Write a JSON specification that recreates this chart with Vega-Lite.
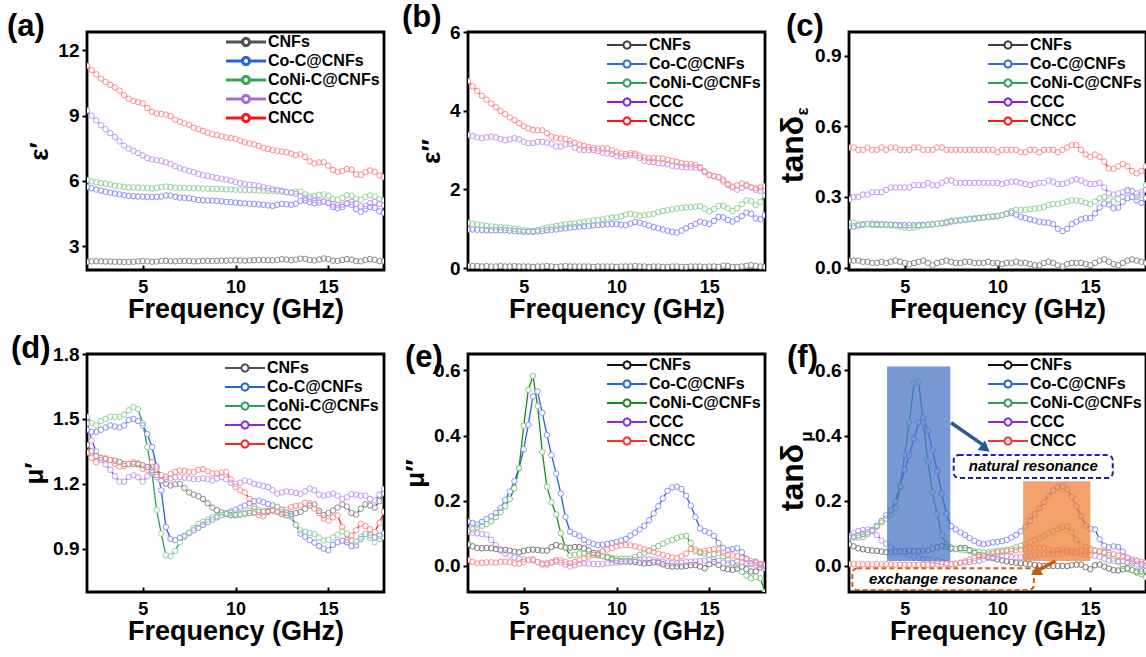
{
"$schema": "https://vega.github.io/schema/vega-lite/v6.json",
"background": "white",
"padding": {"left": 5, "top": 0, "right": 5, "bottom": 5},
"config": {
 "font": "Liberation Sans",
 "view": {"stroke": "black", "strokeWidth": 2.8},
 "axis": {"domain": false, "grid": false, "tickColor": "black", "tickWidth": 2, "labelColor": "black", "labelFontWeight": "bold", "titleColor": "black", "titleFontWeight": "bold", "labelFont": "Liberation Sans", "titleFont": "Liberation Sans"},
 "axisX": {"tickSize": 5, "labelFontSize": 18, "labelPadding": 8, "titleFontSize": 27, "titlePadding": 0},
 "axisY": {"tickSize": 5, "labelFontSize": 19, "labelPadding": 3, "titleFontSize": 26, "titlePadding": 5},
 "legend": {"labelFontSize": 16, "labelFontWeight": "bold", "labelColor": "black", "labelFont": "Liberation Sans", "labelOffset": 14, "rowPadding": 3, "padding": 0, "symbolFillColor": "white"},
 "title": {"fontSize": 31, "fontWeight": "bold", "anchor": "start", "frame": "group", "offset": 0, "baseline": "alphabetic", "color": "black", "font": "Liberation Sans"}
},
"datasets": {
"a": [
{"s":"CNFs","f":2,"v":2.28},{"s":"CNFs","f":2.25,"v":2.30},{"s":"CNFs","f":2.5,"v":2.31},{"s":"CNFs","f":2.75,"v":2.30},{"s":"CNFs","f":3,"v":2.29},{"s":"CNFs","f":3.25,"v":2.29},{"s":"CNFs","f":3.5,"v":2.28},{"s":"CNFs","f":3.75,"v":2.28},{"s":"CNFs","f":4,"v":2.27},{"s":"CNFs","f":4.25,"v":2.27},
{"s":"CNFs","f":4.5,"v":2.28},{"s":"CNFs","f":4.75,"v":2.30},{"s":"CNFs","f":5,"v":2.31},{"s":"CNFs","f":5.25,"v":2.30},{"s":"CNFs","f":5.5,"v":2.28},{"s":"CNFs","f":5.75,"v":2.29},{"s":"CNFs","f":6,"v":2.31},{"s":"CNFs","f":6.25,"v":2.32},{"s":"CNFs","f":6.5,"v":2.31},{"s":"CNFs","f":6.75,"v":2.30},
{"s":"CNFs","f":7,"v":2.31},{"s":"CNFs","f":7.25,"v":2.32},{"s":"CNFs","f":7.5,"v":2.31},{"s":"CNFs","f":7.75,"v":2.30},{"s":"CNFs","f":8,"v":2.31},{"s":"CNFs","f":8.25,"v":2.32},{"s":"CNFs","f":8.5,"v":2.32},{"s":"CNFs","f":8.75,"v":2.31},{"s":"CNFs","f":9,"v":2.32},{"s":"CNFs","f":9.25,"v":2.33},
{"s":"CNFs","f":9.5,"v":2.33},{"s":"CNFs","f":9.75,"v":2.34},{"s":"CNFs","f":10,"v":2.35},{"s":"CNFs","f":10.25,"v":2.34},{"s":"CNFs","f":10.5,"v":2.33},{"s":"CNFs","f":10.75,"v":2.34},{"s":"CNFs","f":11,"v":2.35},{"s":"CNFs","f":11.25,"v":2.36},{"s":"CNFs","f":11.5,"v":2.36},{"s":"CNFs","f":11.75,"v":2.35},
{"s":"CNFs","f":12,"v":2.34},{"s":"CNFs","f":12.25,"v":2.36},{"s":"CNFs","f":12.5,"v":2.40},{"s":"CNFs","f":12.75,"v":2.38},{"s":"CNFs","f":13,"v":2.35},{"s":"CNFs","f":13.25,"v":2.38},{"s":"CNFs","f":13.5,"v":2.42},{"s":"CNFs","f":13.75,"v":2.41},{"s":"CNFs","f":14,"v":2.36},{"s":"CNFs","f":14.25,"v":2.34},
{"s":"CNFs","f":14.5,"v":2.38},{"s":"CNFs","f":14.75,"v":2.43},{"s":"CNFs","f":15,"v":2.40},{"s":"CNFs","f":15.25,"v":2.33},{"s":"CNFs","f":15.5,"v":2.32},{"s":"CNFs","f":15.75,"v":2.36},{"s":"CNFs","f":16,"v":2.40},{"s":"CNFs","f":16.25,"v":2.38},{"s":"CNFs","f":16.5,"v":2.31},{"s":"CNFs","f":16.75,"v":2.30},
{"s":"CNFs","f":17,"v":2.36},{"s":"CNFs","f":17.25,"v":2.40},{"s":"CNFs","f":17.5,"v":2.37},{"s":"CNFs","f":17.75,"v":2.31},{"s":"CNFs","f":18,"v":2.30},
{"s":"Co","f":2,"v":5.72},{"s":"Co","f":2.25,"v":5.66},{"s":"Co","f":2.5,"v":5.60},{"s":"Co","f":2.75,"v":5.55},{"s":"Co","f":3,"v":5.50},{"s":"Co","f":3.25,"v":5.46},{"s":"Co","f":3.5,"v":5.42},{"s":"Co","f":3.75,"v":5.38},{"s":"Co","f":4,"v":5.34},{"s":"Co","f":4.25,"v":5.31},
{"s":"Co","f":4.5,"v":5.29},{"s":"Co","f":4.75,"v":5.28},{"s":"Co","f":5,"v":5.27},{"s":"Co","f":5.25,"v":5.26},{"s":"Co","f":5.5,"v":5.25},{"s":"Co","f":5.75,"v":5.26},{"s":"Co","f":6,"v":5.28},{"s":"Co","f":6.25,"v":5.33},{"s":"Co","f":6.5,"v":5.32},{"s":"Co","f":6.75,"v":5.27},
{"s":"Co","f":7,"v":5.23},{"s":"Co","f":7.25,"v":5.22},{"s":"Co","f":7.5,"v":5.20},{"s":"Co","f":7.75,"v":5.16},{"s":"Co","f":8,"v":5.12},{"s":"Co","f":8.25,"v":5.11},{"s":"Co","f":8.5,"v":5.10},{"s":"Co","f":8.75,"v":5.09},{"s":"Co","f":9,"v":5.08},{"s":"Co","f":9.25,"v":5.06},
{"s":"Co","f":9.5,"v":5.04},{"s":"Co","f":9.75,"v":5.02},{"s":"Co","f":10,"v":5.00},{"s":"Co","f":10.25,"v":4.98},{"s":"Co","f":10.5,"v":4.96},{"s":"Co","f":10.75,"v":4.95},{"s":"Co","f":11,"v":4.94},{"s":"Co","f":11.25,"v":4.92},{"s":"Co","f":11.5,"v":4.90},{"s":"Co","f":11.75,"v":4.87},
{"s":"Co","f":12,"v":4.85},{"s":"Co","f":12.25,"v":4.90},{"s":"Co","f":12.5,"v":4.94},{"s":"Co","f":12.75,"v":4.92},{"s":"Co","f":13,"v":4.90},{"s":"Co","f":13.25,"v":4.95},{"s":"Co","f":13.5,"v":5.08},{"s":"Co","f":13.75,"v":5.10},{"s":"Co","f":14,"v":5.02},{"s":"Co","f":14.25,"v":4.97},
{"s":"Co","f":14.5,"v":5.00},{"s":"Co","f":14.75,"v":5.05},{"s":"Co","f":15,"v":4.98},{"s":"Co","f":15.25,"v":4.80},{"s":"Co","f":15.5,"v":4.74},{"s":"Co","f":15.75,"v":4.80},{"s":"Co","f":16,"v":4.95},{"s":"Co","f":16.25,"v":4.90},{"s":"Co","f":16.5,"v":4.70},{"s":"Co","f":16.75,"v":4.58},
{"s":"Co","f":17,"v":4.70},{"s":"Co","f":17.25,"v":4.80},{"s":"Co","f":17.5,"v":4.76},{"s":"Co","f":17.75,"v":4.60},{"s":"Co","f":18,"v":4.53},
{"s":"CoNi","f":2,"v":6.03},{"s":"CoNi","f":2.25,"v":5.98},{"s":"CoNi","f":2.5,"v":5.94},{"s":"CoNi","f":2.75,"v":5.90},{"s":"CoNi","f":3,"v":5.87},{"s":"CoNi","f":3.25,"v":5.83},{"s":"CoNi","f":3.5,"v":5.78},{"s":"CoNi","f":3.75,"v":5.75},{"s":"CoNi","f":4,"v":5.72},{"s":"CoNi","f":4.25,"v":5.70},
{"s":"CoNi","f":4.5,"v":5.70},{"s":"CoNi","f":4.75,"v":5.69},{"s":"CoNi","f":5,"v":5.68},{"s":"CoNi","f":5.25,"v":5.67},{"s":"CoNi","f":5.5,"v":5.65},{"s":"CoNi","f":5.75,"v":5.68},{"s":"CoNi","f":6,"v":5.72},{"s":"CoNi","f":6.25,"v":5.74},{"s":"CoNi","f":6.5,"v":5.72},{"s":"CoNi","f":6.75,"v":5.69},
{"s":"CoNi","f":7,"v":5.68},{"s":"CoNi","f":7.25,"v":5.68},{"s":"CoNi","f":7.5,"v":5.67},{"s":"CoNi","f":7.75,"v":5.66},{"s":"CoNi","f":8,"v":5.66},{"s":"CoNi","f":8.25,"v":5.65},{"s":"CoNi","f":8.5,"v":5.64},{"s":"CoNi","f":8.75,"v":5.63},{"s":"CoNi","f":9,"v":5.63},{"s":"CoNi","f":9.25,"v":5.62},
{"s":"CoNi","f":9.5,"v":5.61},{"s":"CoNi","f":9.75,"v":5.61},{"s":"CoNi","f":10,"v":5.60},{"s":"CoNi","f":10.25,"v":5.59},{"s":"CoNi","f":10.5,"v":5.58},{"s":"CoNi","f":10.75,"v":5.58},{"s":"CoNi","f":11,"v":5.57},{"s":"CoNi","f":11.25,"v":5.56},{"s":"CoNi","f":11.5,"v":5.55},{"s":"CoNi","f":11.75,"v":5.54},
{"s":"CoNi","f":12,"v":5.54},{"s":"CoNi","f":12.25,"v":5.52},{"s":"CoNi","f":12.5,"v":5.50},{"s":"CoNi","f":12.75,"v":5.48},{"s":"CoNi","f":13,"v":5.46},{"s":"CoNi","f":13.25,"v":5.50},{"s":"CoNi","f":13.5,"v":5.50},{"s":"CoNi","f":13.75,"v":5.38},{"s":"CoNi","f":14,"v":5.28},{"s":"CoNi","f":14.25,"v":5.30},
{"s":"CoNi","f":14.5,"v":5.36},{"s":"CoNi","f":14.75,"v":5.38},{"s":"CoNi","f":15,"v":5.32},{"s":"CoNi","f":15.25,"v":5.16},{"s":"CoNi","f":15.5,"v":5.13},{"s":"CoNi","f":15.75,"v":5.22},{"s":"CoNi","f":16,"v":5.34},{"s":"CoNi","f":16.25,"v":5.32},{"s":"CoNi","f":16.5,"v":5.18},{"s":"CoNi","f":16.75,"v":5.14},
{"s":"CoNi","f":17,"v":5.26},{"s":"CoNi","f":17.25,"v":5.33},{"s":"CoNi","f":17.5,"v":5.28},{"s":"CoNi","f":17.75,"v":5.15},{"s":"CoNi","f":18,"v":5.10},
{"s":"CCC","f":2,"v":9.24},{"s":"CCC","f":2.25,"v":9.00},{"s":"CCC","f":2.5,"v":8.78},{"s":"CCC","f":2.75,"v":8.56},{"s":"CCC","f":3,"v":8.38},{"s":"CCC","f":3.25,"v":8.20},{"s":"CCC","f":3.5,"v":8.02},{"s":"CCC","f":3.75,"v":7.82},{"s":"CCC","f":4,"v":7.62},{"s":"CCC","f":4.25,"v":7.48},
{"s":"CCC","f":4.5,"v":7.38},{"s":"CCC","f":4.75,"v":7.28},{"s":"CCC","f":5,"v":7.18},{"s":"CCC","f":5.25,"v":7.05},{"s":"CCC","f":5.5,"v":6.98},{"s":"CCC","f":5.75,"v":6.95},{"s":"CCC","f":6,"v":6.92},{"s":"CCC","f":6.25,"v":6.85},{"s":"CCC","f":6.5,"v":6.78},{"s":"CCC","f":6.75,"v":6.68},
{"s":"CCC","f":7,"v":6.58},{"s":"CCC","f":7.25,"v":6.52},{"s":"CCC","f":7.5,"v":6.46},{"s":"CCC","f":7.75,"v":6.40},{"s":"CCC","f":8,"v":6.32},{"s":"CCC","f":8.25,"v":6.26},{"s":"CCC","f":8.5,"v":6.22},{"s":"CCC","f":8.75,"v":6.18},{"s":"CCC","f":9,"v":6.13},{"s":"CCC","f":9.25,"v":6.10},
{"s":"CCC","f":9.5,"v":6.06},{"s":"CCC","f":9.75,"v":6.01},{"s":"CCC","f":10,"v":5.95},{"s":"CCC","f":10.25,"v":5.90},{"s":"CCC","f":10.5,"v":5.86},{"s":"CCC","f":10.75,"v":5.82},{"s":"CCC","f":11,"v":5.80},{"s":"CCC","f":11.25,"v":5.76},{"s":"CCC","f":11.5,"v":5.70},{"s":"CCC","f":11.75,"v":5.66},
{"s":"CCC","f":12,"v":5.62},{"s":"CCC","f":12.25,"v":5.60},{"s":"CCC","f":12.5,"v":5.55},{"s":"CCC","f":12.75,"v":5.49},{"s":"CCC","f":13,"v":5.45},{"s":"CCC","f":13.25,"v":5.40},{"s":"CCC","f":13.5,"v":5.30},{"s":"CCC","f":13.75,"v":5.22},{"s":"CCC","f":14,"v":5.18},{"s":"CCC","f":14.25,"v":5.12},
{"s":"CCC","f":14.5,"v":5.10},{"s":"CCC","f":14.75,"v":5.05},{"s":"CCC","f":15,"v":5.00},{"s":"CCC","f":15.25,"v":4.92},{"s":"CCC","f":15.5,"v":4.88},{"s":"CCC","f":15.75,"v":4.90},{"s":"CCC","f":16,"v":4.98},{"s":"CCC","f":16.25,"v":5.03},{"s":"CCC","f":16.5,"v":4.95},{"s":"CCC","f":16.75,"v":4.82},
{"s":"CCC","f":17,"v":4.85},{"s":"CCC","f":17.25,"v":4.98},{"s":"CCC","f":17.5,"v":5.03},{"s":"CCC","f":17.75,"v":4.95},{"s":"CCC","f":18,"v":4.88},
{"s":"CNCC","f":2,"v":11.30},{"s":"CNCC","f":2.25,"v":11.10},{"s":"CNCC","f":2.5,"v":10.90},{"s":"CNCC","f":2.75,"v":10.70},{"s":"CNCC","f":3,"v":10.55},{"s":"CNCC","f":3.25,"v":10.42},{"s":"CNCC","f":3.5,"v":10.30},{"s":"CNCC","f":3.75,"v":10.15},{"s":"CNCC","f":4,"v":9.95},{"s":"CNCC","f":4.25,"v":9.78},
{"s":"CNCC","f":4.5,"v":9.68},{"s":"CNCC","f":4.75,"v":9.62},{"s":"CNCC","f":5,"v":9.57},{"s":"CNCC","f":5.25,"v":9.35},{"s":"CNCC","f":5.5,"v":9.18},{"s":"CNCC","f":5.75,"v":9.10},{"s":"CNCC","f":6,"v":9.08},{"s":"CNCC","f":6.25,"v":9.05},{"s":"CNCC","f":6.5,"v":8.98},{"s":"CNCC","f":6.75,"v":8.82},
{"s":"CNCC","f":7,"v":8.72},{"s":"CNCC","f":7.25,"v":8.65},{"s":"CNCC","f":7.5,"v":8.58},{"s":"CNCC","f":7.75,"v":8.45},{"s":"CNCC","f":8,"v":8.38},{"s":"CNCC","f":8.25,"v":8.30},{"s":"CNCC","f":8.5,"v":8.22},{"s":"CNCC","f":8.75,"v":8.15},{"s":"CNCC","f":9,"v":8.10},{"s":"CNCC","f":9.25,"v":8.05},
{"s":"CNCC","f":9.5,"v":8.00},{"s":"CNCC","f":9.75,"v":7.97},{"s":"CNCC","f":10,"v":7.94},{"s":"CNCC","f":10.25,"v":7.86},{"s":"CNCC","f":10.5,"v":7.78},{"s":"CNCC","f":10.75,"v":7.72},{"s":"CNCC","f":11,"v":7.68},{"s":"CNCC","f":11.25,"v":7.60},{"s":"CNCC","f":11.5,"v":7.52},{"s":"CNCC","f":11.75,"v":7.47},
{"s":"CNCC","f":12,"v":7.42},{"s":"CNCC","f":12.25,"v":7.38},{"s":"CNCC","f":12.5,"v":7.35},{"s":"CNCC","f":12.75,"v":7.32},{"s":"CNCC","f":13,"v":7.25},{"s":"CNCC","f":13.25,"v":7.18},{"s":"CNCC","f":13.5,"v":7.22},{"s":"CNCC","f":13.75,"v":7.10},{"s":"CNCC","f":14,"v":6.90},{"s":"CNCC","f":14.25,"v":6.80},
{"s":"CNCC","f":14.5,"v":6.85},{"s":"CNCC","f":14.75,"v":6.86},{"s":"CNCC","f":15,"v":6.70},{"s":"CNCC","f":15.25,"v":6.50},{"s":"CNCC","f":15.5,"v":6.42},{"s":"CNCC","f":15.75,"v":6.45},{"s":"CNCC","f":16,"v":6.55},{"s":"CNCC","f":16.25,"v":6.52},{"s":"CNCC","f":16.5,"v":6.30},{"s":"CNCC","f":16.75,"v":6.28},
{"s":"CNCC","f":17,"v":6.40},{"s":"CNCC","f":17.25,"v":6.48},{"s":"CNCC","f":17.5,"v":6.42},{"s":"CNCC","f":17.75,"v":6.25},{"s":"CNCC","f":18,"v":6.18}
],
"b": [
{"s":"CNFs","f":2,"v":0.05},{"s":"CNFs","f":2.25,"v":0.05},{"s":"CNFs","f":2.5,"v":0.05},{"s":"CNFs","f":2.75,"v":0.04},{"s":"CNFs","f":3,"v":0.05},{"s":"CNFs","f":3.25,"v":0.04},{"s":"CNFs","f":3.5,"v":0.04},{"s":"CNFs","f":3.75,"v":0.05},{"s":"CNFs","f":4,"v":0.04},{"s":"CNFs","f":4.25,"v":0.04},
{"s":"CNFs","f":4.5,"v":0.05},{"s":"CNFs","f":4.75,"v":0.04},{"s":"CNFs","f":5,"v":0.04},{"s":"CNFs","f":5.25,"v":0.04},{"s":"CNFs","f":5.5,"v":0.03},{"s":"CNFs","f":5.75,"v":0.04},{"s":"CNFs","f":6,"v":0.04},{"s":"CNFs","f":6.25,"v":0.05},{"s":"CNFs","f":6.5,"v":0.04},{"s":"CNFs","f":6.75,"v":0.03},
{"s":"CNFs","f":7,"v":0.04},{"s":"CNFs","f":7.25,"v":0.05},{"s":"CNFs","f":7.5,"v":0.04},{"s":"CNFs","f":7.75,"v":0.04},{"s":"CNFs","f":8,"v":0.04},{"s":"CNFs","f":8.25,"v":0.04},{"s":"CNFs","f":8.5,"v":0.04},{"s":"CNFs","f":8.75,"v":0.03},{"s":"CNFs","f":9,"v":0.04},{"s":"CNFs","f":9.25,"v":0.04},
{"s":"CNFs","f":9.5,"v":0.04},{"s":"CNFs","f":9.75,"v":0.04},{"s":"CNFs","f":10,"v":0.03},{"s":"CNFs","f":10.25,"v":0.04},{"s":"CNFs","f":10.5,"v":0.04},{"s":"CNFs","f":10.75,"v":0.04},{"s":"CNFs","f":11,"v":0.05},{"s":"CNFs","f":11.25,"v":0.04},{"s":"CNFs","f":11.5,"v":0.04},{"s":"CNFs","f":11.75,"v":0.03},
{"s":"CNFs","f":12,"v":0.04},{"s":"CNFs","f":12.25,"v":0.04},{"s":"CNFs","f":12.5,"v":0.03},{"s":"CNFs","f":12.75,"v":0.03},{"s":"CNFs","f":13,"v":0.04},{"s":"CNFs","f":13.25,"v":0.04},{"s":"CNFs","f":13.5,"v":0.03},{"s":"CNFs","f":13.75,"v":0.03},{"s":"CNFs","f":14,"v":0.04},{"s":"CNFs","f":14.25,"v":0.04},
{"s":"CNFs","f":14.5,"v":0.04},{"s":"CNFs","f":14.75,"v":0.03},{"s":"CNFs","f":15,"v":0.04},{"s":"CNFs","f":15.25,"v":0.04},{"s":"CNFs","f":15.5,"v":0.03},{"s":"CNFs","f":15.75,"v":0.06},{"s":"CNFs","f":16,"v":0.05},{"s":"CNFs","f":16.25,"v":0.03},{"s":"CNFs","f":16.5,"v":0.03},{"s":"CNFs","f":16.75,"v":0.04},
{"s":"CNFs","f":17,"v":0.06},{"s":"CNFs","f":17.25,"v":0.07},{"s":"CNFs","f":17.5,"v":0.05},{"s":"CNFs","f":17.75,"v":0.04},{"s":"CNFs","f":18,"v":0.03},
{"s":"Co","f":2,"v":0.98},{"s":"Co","f":2.25,"v":0.98},{"s":"Co","f":2.5,"v":0.97},{"s":"Co","f":2.75,"v":0.97},{"s":"Co","f":3,"v":0.96},{"s":"Co","f":3.25,"v":0.96},{"s":"Co","f":3.5,"v":0.96},{"s":"Co","f":3.75,"v":0.96},{"s":"Co","f":4,"v":0.96},{"s":"Co","f":4.25,"v":0.95},
{"s":"Co","f":4.5,"v":0.94},{"s":"Co","f":4.75,"v":0.93},{"s":"Co","f":5,"v":0.92},{"s":"Co","f":5.25,"v":0.92},{"s":"Co","f":5.5,"v":0.92},{"s":"Co","f":5.75,"v":0.93},{"s":"Co","f":6,"v":0.94},{"s":"Co","f":6.25,"v":0.96},{"s":"Co","f":6.5,"v":0.97},{"s":"Co","f":6.75,"v":0.98},
{"s":"Co","f":7,"v":1.00},{"s":"Co","f":7.25,"v":1.01},{"s":"Co","f":7.5,"v":1.03},{"s":"Co","f":7.75,"v":1.04},{"s":"Co","f":8,"v":1.05},{"s":"Co","f":8.25,"v":1.06},{"s":"Co","f":8.5,"v":1.07},{"s":"Co","f":8.75,"v":1.08},{"s":"Co","f":9,"v":1.09},{"s":"Co","f":9.25,"v":1.10},
{"s":"Co","f":9.5,"v":1.11},{"s":"Co","f":9.75,"v":1.12},{"s":"Co","f":10,"v":1.12},{"s":"Co","f":10.25,"v":1.10},{"s":"Co","f":10.5,"v":1.09},{"s":"Co","f":10.75,"v":1.13},{"s":"Co","f":11,"v":1.17},{"s":"Co","f":11.25,"v":1.15},{"s":"Co","f":11.5,"v":1.12},{"s":"Co","f":11.75,"v":1.08},
{"s":"Co","f":12,"v":1.04},{"s":"Co","f":12.25,"v":1.01},{"s":"Co","f":12.5,"v":0.98},{"s":"Co","f":12.75,"v":0.95},{"s":"Co","f":13,"v":0.92},{"s":"Co","f":13.25,"v":0.90},{"s":"Co","f":13.5,"v":0.95},{"s":"Co","f":13.75,"v":1.01},{"s":"Co","f":14,"v":1.07},{"s":"Co","f":14.25,"v":1.12},
{"s":"Co","f":14.5,"v":1.18},{"s":"Co","f":14.75,"v":1.15},{"s":"Co","f":15,"v":1.12},{"s":"Co","f":15.25,"v":1.20},{"s":"Co","f":15.5,"v":1.30},{"s":"Co","f":15.75,"v":1.29},{"s":"Co","f":16,"v":1.22},{"s":"Co","f":16.25,"v":1.18},{"s":"Co","f":16.5,"v":1.24},{"s":"Co","f":16.75,"v":1.32},
{"s":"Co","f":17,"v":1.41},{"s":"Co","f":17.25,"v":1.38},{"s":"Co","f":17.5,"v":1.26},{"s":"Co","f":17.75,"v":1.24},{"s":"Co","f":18,"v":1.34},
{"s":"CoNi","f":2,"v":1.15},{"s":"CoNi","f":2.25,"v":1.13},{"s":"CoNi","f":2.5,"v":1.11},{"s":"CoNi","f":2.75,"v":1.09},{"s":"CoNi","f":3,"v":1.07},{"s":"CoNi","f":3.25,"v":1.06},{"s":"CoNi","f":3.5,"v":1.05},{"s":"CoNi","f":3.75,"v":1.04},{"s":"CoNi","f":4,"v":1.03},{"s":"CoNi","f":4.25,"v":1.02},
{"s":"CoNi","f":4.5,"v":1.00},{"s":"CoNi","f":4.75,"v":0.98},{"s":"CoNi","f":5,"v":0.96},{"s":"CoNi","f":5.25,"v":0.95},{"s":"CoNi","f":5.5,"v":0.94},{"s":"CoNi","f":5.75,"v":0.97},{"s":"CoNi","f":6,"v":1.00},{"s":"CoNi","f":6.25,"v":1.03},{"s":"CoNi","f":6.5,"v":1.05},{"s":"CoNi","f":6.75,"v":1.07},
{"s":"CoNi","f":7,"v":1.09},{"s":"CoNi","f":7.25,"v":1.11},{"s":"CoNi","f":7.5,"v":1.12},{"s":"CoNi","f":7.75,"v":1.13},{"s":"CoNi","f":8,"v":1.15},{"s":"CoNi","f":8.25,"v":1.17},{"s":"CoNi","f":8.5,"v":1.19},{"s":"CoNi","f":8.75,"v":1.21},{"s":"CoNi","f":9,"v":1.22},{"s":"CoNi","f":9.25,"v":1.24},
{"s":"CoNi","f":9.5,"v":1.26},{"s":"CoNi","f":9.75,"v":1.28},{"s":"CoNi","f":10,"v":1.29},{"s":"CoNi","f":10.25,"v":1.32},{"s":"CoNi","f":10.5,"v":1.36},{"s":"CoNi","f":10.75,"v":1.38},{"s":"CoNi","f":11,"v":1.36},{"s":"CoNi","f":11.25,"v":1.33},{"s":"CoNi","f":11.5,"v":1.34},{"s":"CoNi","f":11.75,"v":1.36},
{"s":"CoNi","f":12,"v":1.38},{"s":"CoNi","f":12.25,"v":1.42},{"s":"CoNi","f":12.5,"v":1.45},{"s":"CoNi","f":12.75,"v":1.47},{"s":"CoNi","f":13,"v":1.49},{"s":"CoNi","f":13.25,"v":1.51},{"s":"CoNi","f":13.5,"v":1.53},{"s":"CoNi","f":13.75,"v":1.54},{"s":"CoNi","f":14,"v":1.55},{"s":"CoNi","f":14.25,"v":1.56},
{"s":"CoNi","f":14.5,"v":1.57},{"s":"CoNi","f":14.75,"v":1.51},{"s":"CoNi","f":15,"v":1.44},{"s":"CoNi","f":15.25,"v":1.50},{"s":"CoNi","f":15.5,"v":1.58},{"s":"CoNi","f":15.75,"v":1.58},{"s":"CoNi","f":16,"v":1.52},{"s":"CoNi","f":16.25,"v":1.45},{"s":"CoNi","f":16.5,"v":1.52},{"s":"CoNi","f":16.75,"v":1.62},
{"s":"CoNi","f":17,"v":1.72},{"s":"CoNi","f":17.25,"v":1.70},{"s":"CoNi","f":17.5,"v":1.60},{"s":"CoNi","f":17.75,"v":1.68},{"s":"CoNi","f":18,"v":1.85},
{"s":"CCC","f":2,"v":3.38},{"s":"CCC","f":2.25,"v":3.36},{"s":"CCC","f":2.5,"v":3.32},{"s":"CCC","f":2.75,"v":3.30},{"s":"CCC","f":3,"v":3.32},{"s":"CCC","f":3.25,"v":3.34},{"s":"CCC","f":3.5,"v":3.32},{"s":"CCC","f":3.75,"v":3.28},{"s":"CCC","f":4,"v":3.25},{"s":"CCC","f":4.25,"v":3.27},
{"s":"CCC","f":4.5,"v":3.30},{"s":"CCC","f":4.75,"v":3.27},{"s":"CCC","f":5,"v":3.21},{"s":"CCC","f":5.25,"v":3.17},{"s":"CCC","f":5.5,"v":3.18},{"s":"CCC","f":5.75,"v":3.21},{"s":"CCC","f":6,"v":3.21},{"s":"CCC","f":6.25,"v":3.19},{"s":"CCC","f":6.5,"v":3.16},{"s":"CCC","f":6.75,"v":3.09},
{"s":"CCC","f":7,"v":3.09},{"s":"CCC","f":7.25,"v":3.14},{"s":"CCC","f":7.5,"v":3.16},{"s":"CCC","f":7.75,"v":3.06},{"s":"CCC","f":8,"v":3.01},{"s":"CCC","f":8.25,"v":3.00},{"s":"CCC","f":8.5,"v":3.00},{"s":"CCC","f":8.75,"v":3.00},{"s":"CCC","f":9,"v":2.97},{"s":"CCC","f":9.25,"v":2.93},
{"s":"CCC","f":9.5,"v":2.91},{"s":"CCC","f":9.75,"v":2.90},{"s":"CCC","f":10,"v":2.85},{"s":"CCC","f":10.25,"v":2.83},{"s":"CCC","f":10.5,"v":2.85},{"s":"CCC","f":10.75,"v":2.87},{"s":"CCC","f":11,"v":2.86},{"s":"CCC","f":11.25,"v":2.80},{"s":"CCC","f":11.5,"v":2.73},{"s":"CCC","f":11.75,"v":2.70},
{"s":"CCC","f":12,"v":2.69},{"s":"CCC","f":12.25,"v":2.67},{"s":"CCC","f":12.5,"v":2.66},{"s":"CCC","f":12.75,"v":2.64},{"s":"CCC","f":13,"v":2.60},{"s":"CCC","f":13.25,"v":2.58},{"s":"CCC","f":13.5,"v":2.57},{"s":"CCC","f":13.75,"v":2.56},{"s":"CCC","f":14,"v":2.56},{"s":"CCC","f":14.25,"v":2.55},
{"s":"CCC","f":14.5,"v":2.54},{"s":"CCC","f":14.75,"v":2.46},{"s":"CCC","f":15,"v":2.37},{"s":"CCC","f":15.25,"v":2.33},{"s":"CCC","f":15.5,"v":2.31},{"s":"CCC","f":15.75,"v":2.25},{"s":"CCC","f":16,"v":2.14},{"s":"CCC","f":16.25,"v":2.05},{"s":"CCC","f":16.5,"v":1.99},{"s":"CCC","f":16.75,"v":2.04},
{"s":"CCC","f":17,"v":2.09},{"s":"CCC","f":17.25,"v":2.05},{"s":"CCC","f":17.5,"v":1.99},{"s":"CCC","f":17.75,"v":1.96},{"s":"CCC","f":18,"v":1.96},
{"s":"CNCC","f":2,"v":4.75},{"s":"CNCC","f":2.25,"v":4.62},{"s":"CNCC","f":2.5,"v":4.50},{"s":"CNCC","f":2.75,"v":4.38},{"s":"CNCC","f":3,"v":4.28},{"s":"CNCC","f":3.25,"v":4.18},{"s":"CNCC","f":3.5,"v":4.09},{"s":"CNCC","f":3.75,"v":3.99},{"s":"CNCC","f":4,"v":3.91},{"s":"CNCC","f":4.25,"v":3.83},
{"s":"CNCC","f":4.5,"v":3.76},{"s":"CNCC","f":4.75,"v":3.68},{"s":"CNCC","f":5,"v":3.61},{"s":"CNCC","f":5.25,"v":3.55},{"s":"CNCC","f":5.5,"v":3.51},{"s":"CNCC","f":5.75,"v":3.50},{"s":"CNCC","f":6,"v":3.50},{"s":"CNCC","f":6.25,"v":3.43},{"s":"CNCC","f":6.5,"v":3.34},{"s":"CNCC","f":6.75,"v":3.31},
{"s":"CNCC","f":7,"v":3.29},{"s":"CNCC","f":7.25,"v":3.28},{"s":"CNCC","f":7.5,"v":3.24},{"s":"CNCC","f":7.75,"v":3.18},{"s":"CNCC","f":8,"v":3.14},{"s":"CNCC","f":8.25,"v":3.11},{"s":"CNCC","f":8.5,"v":3.08},{"s":"CNCC","f":8.75,"v":3.05},{"s":"CNCC","f":9,"v":3.04},{"s":"CNCC","f":9.25,"v":3.04},
{"s":"CNCC","f":9.5,"v":3.04},{"s":"CNCC","f":9.75,"v":2.99},{"s":"CNCC","f":10,"v":2.94},{"s":"CNCC","f":10.25,"v":2.91},{"s":"CNCC","f":10.5,"v":2.90},{"s":"CNCC","f":10.75,"v":2.92},{"s":"CNCC","f":11,"v":2.91},{"s":"CNCC","f":11.25,"v":2.86},{"s":"CNCC","f":11.5,"v":2.81},{"s":"CNCC","f":11.75,"v":2.79},
{"s":"CNCC","f":12,"v":2.79},{"s":"CNCC","f":12.25,"v":2.79},{"s":"CNCC","f":12.5,"v":2.78},{"s":"CNCC","f":12.75,"v":2.75},{"s":"CNCC","f":13,"v":2.72},{"s":"CNCC","f":13.25,"v":2.70},{"s":"CNCC","f":13.5,"v":2.67},{"s":"CNCC","f":13.75,"v":2.65},{"s":"CNCC","f":14,"v":2.64},{"s":"CNCC","f":14.25,"v":2.62},
{"s":"CNCC","f":14.5,"v":2.56},{"s":"CNCC","f":14.75,"v":2.44},{"s":"CNCC","f":15,"v":2.36},{"s":"CNCC","f":15.25,"v":2.34},{"s":"CNCC","f":15.5,"v":2.31},{"s":"CNCC","f":15.75,"v":2.20},{"s":"CNCC","f":16,"v":2.11},{"s":"CNCC","f":16.25,"v":2.07},{"s":"CNCC","f":16.5,"v":2.10},{"s":"CNCC","f":16.75,"v":2.15},
{"s":"CNCC","f":17,"v":2.12},{"s":"CNCC","f":17.25,"v":2.05},{"s":"CNCC","f":17.5,"v":2.03},{"s":"CNCC","f":17.75,"v":2.05},{"s":"CNCC","f":18,"v":2.08}
],
"c": [
{"s":"CNFs","f":2,"v":0.03},{"s":"CNFs","f":2.25,"v":0.03},{"s":"CNFs","f":2.5,"v":0.03},{"s":"CNFs","f":2.75,"v":0.025},{"s":"CNFs","f":3,"v":0.025},{"s":"CNFs","f":3.25,"v":0.02},{"s":"CNFs","f":3.5,"v":0.02},{"s":"CNFs","f":3.75,"v":0.025},{"s":"CNFs","f":4,"v":0.02},{"s":"CNFs","f":4.25,"v":0.025},
{"s":"CNFs","f":4.5,"v":0.03},{"s":"CNFs","f":4.75,"v":0.025},{"s":"CNFs","f":5,"v":0.02},{"s":"CNFs","f":5.25,"v":0.015},{"s":"CNFs","f":5.5,"v":0.02},{"s":"CNFs","f":5.75,"v":0.025},{"s":"CNFs","f":6,"v":0.03},{"s":"CNFs","f":6.25,"v":0.02},{"s":"CNFs","f":6.5,"v":0.01},{"s":"CNFs","f":6.75,"v":0.02},
{"s":"CNFs","f":7,"v":0.025},{"s":"CNFs","f":7.25,"v":0.03},{"s":"CNFs","f":7.5,"v":0.025},{"s":"CNFs","f":7.75,"v":0.02},{"s":"CNFs","f":8,"v":0.02},{"s":"CNFs","f":8.25,"v":0.025},{"s":"CNFs","f":8.5,"v":0.025},{"s":"CNFs","f":8.75,"v":0.02},{"s":"CNFs","f":9,"v":0.02},{"s":"CNFs","f":9.25,"v":0.02},
{"s":"CNFs","f":9.5,"v":0.025},{"s":"CNFs","f":9.75,"v":0.02},{"s":"CNFs","f":10,"v":0.02},{"s":"CNFs","f":10.25,"v":0.015},{"s":"CNFs","f":10.5,"v":0.02},{"s":"CNFs","f":10.75,"v":0.02},{"s":"CNFs","f":11,"v":0.025},{"s":"CNFs","f":11.25,"v":0.02},{"s":"CNFs","f":11.5,"v":0.02},{"s":"CNFs","f":11.75,"v":0.015},
{"s":"CNFs","f":12,"v":0.01},{"s":"CNFs","f":12.25,"v":0.01},{"s":"CNFs","f":12.5,"v":0.02},{"s":"CNFs","f":12.75,"v":0.025},{"s":"CNFs","f":13,"v":0.02},{"s":"CNFs","f":13.25,"v":0.01},{"s":"CNFs","f":13.5,"v":0.005},{"s":"CNFs","f":13.75,"v":0.015},{"s":"CNFs","f":14,"v":0.02},{"s":"CNFs","f":14.25,"v":0.02},
{"s":"CNFs","f":14.5,"v":0.02},{"s":"CNFs","f":14.75,"v":0.015},{"s":"CNFs","f":15,"v":0.01},{"s":"CNFs","f":15.25,"v":0.02},{"s":"CNFs","f":15.5,"v":0.03},{"s":"CNFs","f":15.75,"v":0.035},{"s":"CNFs","f":16,"v":0.025},{"s":"CNFs","f":16.25,"v":0.015},{"s":"CNFs","f":16.5,"v":0.01},{"s":"CNFs","f":16.75,"v":0.02},
{"s":"CNFs","f":17,"v":0.03},{"s":"CNFs","f":17.25,"v":0.035},{"s":"CNFs","f":17.5,"v":0.03},{"s":"CNFs","f":17.75,"v":0.025},{"s":"CNFs","f":18,"v":0.02},
{"s":"Co","f":2,"v":0.175},{"s":"Co","f":2.25,"v":0.175},{"s":"Co","f":2.5,"v":0.178},{"s":"Co","f":2.75,"v":0.182},{"s":"Co","f":3,"v":0.185},{"s":"Co","f":3.25,"v":0.186},{"s":"Co","f":3.5,"v":0.185},{"s":"Co","f":3.75,"v":0.184},{"s":"Co","f":4,"v":0.183},{"s":"Co","f":4.25,"v":0.183},
{"s":"Co","f":4.5,"v":0.182},{"s":"Co","f":4.75,"v":0.181},{"s":"Co","f":5,"v":0.18},{"s":"Co","f":5.25,"v":0.18},{"s":"Co","f":5.5,"v":0.18},{"s":"Co","f":5.75,"v":0.181},{"s":"Co","f":6,"v":0.182},{"s":"Co","f":6.25,"v":0.183},{"s":"Co","f":6.5,"v":0.185},{"s":"Co","f":6.75,"v":0.186},
{"s":"Co","f":7,"v":0.188},{"s":"Co","f":7.25,"v":0.19},{"s":"Co","f":7.5,"v":0.195},{"s":"Co","f":7.75,"v":0.198},{"s":"Co","f":8,"v":0.2},{"s":"Co","f":8.25,"v":0.203},{"s":"Co","f":8.5,"v":0.205},{"s":"Co","f":8.75,"v":0.207},{"s":"Co","f":9,"v":0.21},{"s":"Co","f":9.25,"v":0.212},
{"s":"Co","f":9.5,"v":0.214},{"s":"Co","f":9.75,"v":0.216},{"s":"Co","f":10,"v":0.218},{"s":"Co","f":10.25,"v":0.222},{"s":"Co","f":10.5,"v":0.228},{"s":"Co","f":10.75,"v":0.232},{"s":"Co","f":11,"v":0.225},{"s":"Co","f":11.25,"v":0.215},{"s":"Co","f":11.5,"v":0.21},{"s":"Co","f":11.75,"v":0.205},
{"s":"Co","f":12,"v":0.2},{"s":"Co","f":12.25,"v":0.195},{"s":"Co","f":12.5,"v":0.192},{"s":"Co","f":12.75,"v":0.19},{"s":"Co","f":13,"v":0.185},{"s":"Co","f":13.25,"v":0.165},{"s":"Co","f":13.5,"v":0.155},{"s":"Co","f":13.75,"v":0.165},{"s":"Co","f":14,"v":0.185},{"s":"Co","f":14.25,"v":0.195},
{"s":"Co","f":14.5,"v":0.205},{"s":"Co","f":14.75,"v":0.21},{"s":"Co","f":15,"v":0.21},{"s":"Co","f":15.25,"v":0.23},{"s":"Co","f":15.5,"v":0.255},{"s":"Co","f":15.75,"v":0.272},{"s":"Co","f":16,"v":0.268},{"s":"Co","f":16.25,"v":0.252},{"s":"Co","f":16.5,"v":0.255},{"s":"Co","f":16.75,"v":0.28},
{"s":"Co","f":17,"v":0.295},{"s":"Co","f":17.25,"v":0.3},{"s":"Co","f":17.5,"v":0.285},{"s":"Co","f":17.75,"v":0.275},{"s":"Co","f":18,"v":0.295},
{"s":"CoNi","f":2,"v":0.19},{"s":"CoNi","f":2.25,"v":0.19},{"s":"CoNi","f":2.5,"v":0.185},{"s":"CoNi","f":2.75,"v":0.185},{"s":"CoNi","f":3,"v":0.185},{"s":"CoNi","f":3.25,"v":0.18},{"s":"CoNi","f":3.5,"v":0.18},{"s":"CoNi","f":3.75,"v":0.18},{"s":"CoNi","f":4,"v":0.18},{"s":"CoNi","f":4.25,"v":0.18},
{"s":"CoNi","f":4.5,"v":0.178},{"s":"CoNi","f":4.75,"v":0.175},{"s":"CoNi","f":5,"v":0.17},{"s":"CoNi","f":5.25,"v":0.168},{"s":"CoNi","f":5.5,"v":0.17},{"s":"CoNi","f":5.75,"v":0.175},{"s":"CoNi","f":6,"v":0.178},{"s":"CoNi","f":6.25,"v":0.18},{"s":"CoNi","f":6.5,"v":0.182},{"s":"CoNi","f":6.75,"v":0.186},
{"s":"CoNi","f":7,"v":0.19},{"s":"CoNi","f":7.25,"v":0.195},{"s":"CoNi","f":7.5,"v":0.2},{"s":"CoNi","f":7.75,"v":0.2},{"s":"CoNi","f":8,"v":0.203},{"s":"CoNi","f":8.25,"v":0.205},{"s":"CoNi","f":8.5,"v":0.208},{"s":"CoNi","f":8.75,"v":0.21},{"s":"CoNi","f":9,"v":0.212},{"s":"CoNi","f":9.25,"v":0.214},
{"s":"CoNi","f":9.5,"v":0.216},{"s":"CoNi","f":9.75,"v":0.218},{"s":"CoNi","f":10,"v":0.22},{"s":"CoNi","f":10.25,"v":0.224},{"s":"CoNi","f":10.5,"v":0.23},{"s":"CoNi","f":10.75,"v":0.24},{"s":"CoNi","f":11,"v":0.245},{"s":"CoNi","f":11.25,"v":0.245},{"s":"CoNi","f":11.5,"v":0.245},{"s":"CoNi","f":11.75,"v":0.248},
{"s":"CoNi","f":12,"v":0.25},{"s":"CoNi","f":12.25,"v":0.253},{"s":"CoNi","f":12.5,"v":0.258},{"s":"CoNi","f":12.75,"v":0.265},{"s":"CoNi","f":13,"v":0.27},{"s":"CoNi","f":13.25,"v":0.27},{"s":"CoNi","f":13.5,"v":0.275},{"s":"CoNi","f":13.75,"v":0.28},{"s":"CoNi","f":14,"v":0.285},{"s":"CoNi","f":14.25,"v":0.285},
{"s":"CoNi","f":14.5,"v":0.282},{"s":"CoNi","f":14.75,"v":0.275},{"s":"CoNi","f":15,"v":0.27},{"s":"CoNi","f":15.25,"v":0.28},{"s":"CoNi","f":15.5,"v":0.295},{"s":"CoNi","f":15.75,"v":0.3},{"s":"CoNi","f":16,"v":0.285},{"s":"CoNi","f":16.25,"v":0.28},{"s":"CoNi","f":16.5,"v":0.29},{"s":"CoNi","f":16.75,"v":0.3},
{"s":"CoNi","f":17,"v":0.33},{"s":"CoNi","f":17.25,"v":0.325},{"s":"CoNi","f":17.5,"v":0.3},{"s":"CoNi","f":17.75,"v":0.32},{"s":"CoNi","f":18,"v":0.35},
{"s":"CCC","f":2,"v":0.29},{"s":"CCC","f":2.25,"v":0.30},{"s":"CCC","f":2.5,"v":0.30},{"s":"CCC","f":2.75,"v":0.31},{"s":"CCC","f":3,"v":0.31},{"s":"CCC","f":3.25,"v":0.32},{"s":"CCC","f":3.5,"v":0.32},{"s":"CCC","f":3.75,"v":0.32},{"s":"CCC","f":4,"v":0.33},{"s":"CCC","f":4.25,"v":0.34},
{"s":"CCC","f":4.5,"v":0.34},{"s":"CCC","f":4.75,"v":0.34},{"s":"CCC","f":5,"v":0.34},{"s":"CCC","f":5.25,"v":0.34},{"s":"CCC","f":5.5,"v":0.35},{"s":"CCC","f":5.75,"v":0.35},{"s":"CCC","f":6,"v":0.35},{"s":"CCC","f":6.25,"v":0.36},{"s":"CCC","f":6.5,"v":0.35},{"s":"CCC","f":6.75,"v":0.35},
{"s":"CCC","f":7,"v":0.36},{"s":"CCC","f":7.25,"v":0.37},{"s":"CCC","f":7.5,"v":0.37},{"s":"CCC","f":7.75,"v":0.36},{"s":"CCC","f":8,"v":0.36},{"s":"CCC","f":8.25,"v":0.36},{"s":"CCC","f":8.5,"v":0.36},{"s":"CCC","f":8.75,"v":0.36},{"s":"CCC","f":9,"v":0.36},{"s":"CCC","f":9.25,"v":0.36},
{"s":"CCC","f":9.5,"v":0.36},{"s":"CCC","f":9.75,"v":0.36},{"s":"CCC","f":10,"v":0.36},{"s":"CCC","f":10.25,"v":0.355},{"s":"CCC","f":10.5,"v":0.36},{"s":"CCC","f":10.75,"v":0.365},{"s":"CCC","f":11,"v":0.365},{"s":"CCC","f":11.25,"v":0.36},{"s":"CCC","f":11.5,"v":0.355},{"s":"CCC","f":11.75,"v":0.35},
{"s":"CCC","f":12,"v":0.355},{"s":"CCC","f":12.25,"v":0.36},{"s":"CCC","f":12.5,"v":0.36},{"s":"CCC","f":12.75,"v":0.37},{"s":"CCC","f":13,"v":0.365},{"s":"CCC","f":13.25,"v":0.355},{"s":"CCC","f":13.5,"v":0.355},{"s":"CCC","f":13.75,"v":0.36},{"s":"CCC","f":14,"v":0.37},{"s":"CCC","f":14.25,"v":0.375},
{"s":"CCC","f":14.5,"v":0.37},{"s":"CCC","f":14.75,"v":0.36},{"s":"CCC","f":15,"v":0.355},{"s":"CCC","f":15.25,"v":0.355},{"s":"CCC","f":15.5,"v":0.36},{"s":"CCC","f":15.75,"v":0.34},{"s":"CCC","f":16,"v":0.315},{"s":"CCC","f":16.25,"v":0.31},{"s":"CCC","f":16.5,"v":0.315},{"s":"CCC","f":16.75,"v":0.32},
{"s":"CCC","f":17,"v":0.325},{"s":"CCC","f":17.25,"v":0.325},{"s":"CCC","f":17.5,"v":0.315},{"s":"CCC","f":17.75,"v":0.31},{"s":"CCC","f":18,"v":0.33},
{"s":"CNCC","f":2,"v":0.51},{"s":"CNCC","f":2.25,"v":0.51},{"s":"CNCC","f":2.5,"v":0.50},{"s":"CNCC","f":2.75,"v":0.50},{"s":"CNCC","f":3,"v":0.51},{"s":"CNCC","f":3.25,"v":0.50},{"s":"CNCC","f":3.5,"v":0.50},{"s":"CNCC","f":3.75,"v":0.51},{"s":"CNCC","f":4,"v":0.50},{"s":"CNCC","f":4.25,"v":0.51},
{"s":"CNCC","f":4.5,"v":0.51},{"s":"CNCC","f":4.75,"v":0.50},{"s":"CNCC","f":5,"v":0.50},{"s":"CNCC","f":5.25,"v":0.50},{"s":"CNCC","f":5.5,"v":0.51},{"s":"CNCC","f":5.75,"v":0.51},{"s":"CNCC","f":6,"v":0.50},{"s":"CNCC","f":6.25,"v":0.50},{"s":"CNCC","f":6.5,"v":0.50},{"s":"CNCC","f":6.75,"v":0.51},
{"s":"CNCC","f":7,"v":0.51},{"s":"CNCC","f":7.25,"v":0.50},{"s":"CNCC","f":7.5,"v":0.50},{"s":"CNCC","f":7.75,"v":0.50},{"s":"CNCC","f":8,"v":0.50},{"s":"CNCC","f":8.25,"v":0.50},{"s":"CNCC","f":8.5,"v":0.50},{"s":"CNCC","f":8.75,"v":0.50},{"s":"CNCC","f":9,"v":0.50},{"s":"CNCC","f":9.25,"v":0.50},
{"s":"CNCC","f":9.5,"v":0.50},{"s":"CNCC","f":9.75,"v":0.50},{"s":"CNCC","f":10,"v":0.49},{"s":"CNCC","f":10.25,"v":0.50},{"s":"CNCC","f":10.5,"v":0.50},{"s":"CNCC","f":10.75,"v":0.50},{"s":"CNCC","f":11,"v":0.50},{"s":"CNCC","f":11.25,"v":0.49},{"s":"CNCC","f":11.5,"v":0.49},{"s":"CNCC","f":11.75,"v":0.50},
{"s":"CNCC","f":12,"v":0.50},{"s":"CNCC","f":12.25,"v":0.49},{"s":"CNCC","f":12.5,"v":0.50},{"s":"CNCC","f":12.75,"v":0.50},{"s":"CNCC","f":13,"v":0.50},{"s":"CNCC","f":13.25,"v":0.49},{"s":"CNCC","f":13.5,"v":0.50},{"s":"CNCC","f":13.75,"v":0.51},{"s":"CNCC","f":14,"v":0.52},{"s":"CNCC","f":14.25,"v":0.52},
{"s":"CNCC","f":14.5,"v":0.50},{"s":"CNCC","f":14.75,"v":0.48},{"s":"CNCC","f":15,"v":0.47},{"s":"CNCC","f":15.25,"v":0.48},{"s":"CNCC","f":15.5,"v":0.47},{"s":"CNCC","f":15.75,"v":0.45},{"s":"CNCC","f":16,"v":0.42},{"s":"CNCC","f":16.25,"v":0.42},{"s":"CNCC","f":16.5,"v":0.43},{"s":"CNCC","f":16.75,"v":0.44},
{"s":"CNCC","f":17,"v":0.43},{"s":"CNCC","f":17.25,"v":0.41},{"s":"CNCC","f":17.5,"v":0.40},{"s":"CNCC","f":17.75,"v":0.41},{"s":"CNCC","f":18,"v":0.43}
],
"d": [
{"s":"CNFs","f":2,"v":1.38},{"s":"CNFs","f":2.25,"v":1.35},{"s":"CNFs","f":2.5,"v":1.328},{"s":"CNFs","f":2.75,"v":1.32},{"s":"CNFs","f":3,"v":1.315},{"s":"CNFs","f":3.25,"v":1.31},{"s":"CNFs","f":3.5,"v":1.307},{"s":"CNFs","f":3.75,"v":1.30},{"s":"CNFs","f":4,"v":1.292},{"s":"CNFs","f":4.25,"v":1.292},
{"s":"CNFs","f":4.5,"v":1.292},{"s":"CNFs","f":4.75,"v":1.29},{"s":"CNFs","f":5,"v":1.286},{"s":"CNFs","f":5.25,"v":1.278},{"s":"CNFs","f":5.5,"v":1.262},{"s":"CNFs","f":5.75,"v":1.24},{"s":"CNFs","f":6,"v":1.215},{"s":"CNFs","f":6.25,"v":1.20},{"s":"CNFs","f":6.5,"v":1.192},{"s":"CNFs","f":6.75,"v":1.198},
{"s":"CNFs","f":7,"v":1.20},{"s":"CNFs","f":7.25,"v":1.18},{"s":"CNFs","f":7.5,"v":1.16},{"s":"CNFs","f":7.75,"v":1.15},{"s":"CNFs","f":8,"v":1.142},{"s":"CNFs","f":8.25,"v":1.13},{"s":"CNFs","f":8.5,"v":1.11},{"s":"CNFs","f":8.75,"v":1.09},{"s":"CNFs","f":9,"v":1.078},{"s":"CNFs","f":9.25,"v":1.068},
{"s":"CNFs","f":9.5,"v":1.06},{"s":"CNFs","f":9.75,"v":1.055},{"s":"CNFs","f":10,"v":1.055},{"s":"CNFs","f":10.25,"v":1.058},{"s":"CNFs","f":10.5,"v":1.062},{"s":"CNFs","f":10.75,"v":1.065},{"s":"CNFs","f":11,"v":1.067},{"s":"CNFs","f":11.25,"v":1.07},{"s":"CNFs","f":11.5,"v":1.072},{"s":"CNFs","f":11.75,"v":1.075},
{"s":"CNFs","f":12,"v":1.077},{"s":"CNFs","f":12.25,"v":1.07},{"s":"CNFs","f":12.5,"v":1.06},{"s":"CNFs","f":12.75,"v":1.055},{"s":"CNFs","f":13,"v":1.06},{"s":"CNFs","f":13.25,"v":1.065},{"s":"CNFs","f":13.5,"v":1.07},{"s":"CNFs","f":13.75,"v":1.085},{"s":"CNFs","f":14,"v":1.10},{"s":"CNFs","f":14.25,"v":1.105},
{"s":"CNFs","f":14.5,"v":1.075},{"s":"CNFs","f":14.75,"v":1.055},{"s":"CNFs","f":15,"v":1.065},{"s":"CNFs","f":15.25,"v":1.077},{"s":"CNFs","f":15.5,"v":1.09},{"s":"CNFs","f":15.75,"v":1.105},{"s":"CNFs","f":16,"v":1.095},{"s":"CNFs","f":16.25,"v":1.065},{"s":"CNFs","f":16.5,"v":1.058},{"s":"CNFs","f":16.75,"v":1.085},
{"s":"CNFs","f":17,"v":1.105},{"s":"CNFs","f":17.25,"v":1.10},{"s":"CNFs","f":17.5,"v":1.09},{"s":"CNFs","f":17.75,"v":1.12},{"s":"CNFs","f":18,"v":1.155},
{"s":"Co","f":2,"v":1.45},{"s":"Co","f":2.25,"v":1.44},{"s":"Co","f":2.5,"v":1.44},{"s":"Co","f":2.75,"v":1.45},{"s":"Co","f":3,"v":1.46},{"s":"Co","f":3.25,"v":1.47},{"s":"Co","f":3.5,"v":1.465},{"s":"Co","f":3.75,"v":1.46},{"s":"Co","f":4,"v":1.47},{"s":"Co","f":4.25,"v":1.495},
{"s":"Co","f":4.5,"v":1.50},{"s":"Co","f":4.75,"v":1.49},{"s":"Co","f":5,"v":1.47},{"s":"Co","f":5.25,"v":1.43},{"s":"Co","f":5.5,"v":1.37},{"s":"Co","f":5.75,"v":1.28},{"s":"Co","f":6,"v":1.17},{"s":"Co","f":6.25,"v":1.00},{"s":"Co","f":6.5,"v":0.945},{"s":"Co","f":6.75,"v":0.94},
{"s":"Co","f":7,"v":0.95},{"s":"Co","f":7.25,"v":0.96},{"s":"Co","f":7.5,"v":0.972},{"s":"Co","f":7.75,"v":0.985},{"s":"Co","f":8,"v":0.997},{"s":"Co","f":8.25,"v":1.01},{"s":"Co","f":8.5,"v":1.023},{"s":"Co","f":8.75,"v":1.034},{"s":"Co","f":9,"v":1.045},{"s":"Co","f":9.25,"v":1.055},
{"s":"Co","f":9.5,"v":1.064},{"s":"Co","f":9.75,"v":1.072},{"s":"Co","f":10,"v":1.08},{"s":"Co","f":10.25,"v":1.09},{"s":"Co","f":10.5,"v":1.10},{"s":"Co","f":10.75,"v":1.11},{"s":"Co","f":11,"v":1.12},{"s":"Co","f":11.25,"v":1.122},{"s":"Co","f":11.5,"v":1.115},{"s":"Co","f":11.75,"v":1.107},
{"s":"Co","f":12,"v":1.10},{"s":"Co","f":12.25,"v":1.093},{"s":"Co","f":12.5,"v":1.08},{"s":"Co","f":12.75,"v":1.067},{"s":"Co","f":13,"v":1.052},{"s":"Co","f":13.25,"v":1.01},{"s":"Co","f":13.5,"v":0.97},{"s":"Co","f":13.75,"v":0.955},{"s":"Co","f":14,"v":0.94},{"s":"Co","f":14.25,"v":0.928},
{"s":"Co","f":14.5,"v":0.912},{"s":"Co","f":14.75,"v":0.90},{"s":"Co","f":15,"v":0.893},{"s":"Co","f":15.25,"v":0.918},{"s":"Co","f":15.5,"v":0.93},{"s":"Co","f":15.75,"v":0.937},{"s":"Co","f":16,"v":0.93},{"s":"Co","f":16.25,"v":0.912},{"s":"Co","f":16.5,"v":0.915},{"s":"Co","f":16.75,"v":0.945},
{"s":"Co","f":17,"v":0.968},{"s":"Co","f":17.25,"v":0.962},{"s":"Co","f":17.5,"v":0.952},{"s":"Co","f":17.75,"v":0.96},{"s":"Co","f":18,"v":0.97},
{"s":"CoNi","f":2,"v":1.51},{"s":"CoNi","f":2.25,"v":1.48},{"s":"CoNi","f":2.5,"v":1.47},{"s":"CoNi","f":2.75,"v":1.49},{"s":"CoNi","f":3,"v":1.50},{"s":"CoNi","f":3.25,"v":1.51},{"s":"CoNi","f":3.5,"v":1.51},{"s":"CoNi","f":3.75,"v":1.51},{"s":"CoNi","f":4,"v":1.52},{"s":"CoNi","f":4.25,"v":1.54},
{"s":"CoNi","f":4.5,"v":1.555},{"s":"CoNi","f":4.75,"v":1.545},{"s":"CoNi","f":5,"v":1.48},{"s":"CoNi","f":5.25,"v":1.37},{"s":"CoNi","f":5.5,"v":1.25},{"s":"CoNi","f":5.75,"v":1.08},{"s":"CoNi","f":6,"v":0.97},{"s":"CoNi","f":6.25,"v":0.87},{"s":"CoNi","f":6.5,"v":0.865},{"s":"CoNi","f":6.75,"v":0.89},
{"s":"CoNi","f":7,"v":0.93},{"s":"CoNi","f":7.25,"v":0.955},{"s":"CoNi","f":7.5,"v":0.975},{"s":"CoNi","f":7.75,"v":0.995},{"s":"CoNi","f":8,"v":1.015},{"s":"CoNi","f":8.25,"v":1.025},{"s":"CoNi","f":8.5,"v":1.035},{"s":"CoNi","f":8.75,"v":1.045},{"s":"CoNi","f":9,"v":1.05},{"s":"CoNi","f":9.25,"v":1.055},
{"s":"CoNi","f":9.5,"v":1.062},{"s":"CoNi","f":9.75,"v":1.065},{"s":"CoNi","f":10,"v":1.062},{"s":"CoNi","f":10.25,"v":1.06},{"s":"CoNi","f":10.5,"v":1.065},{"s":"CoNi","f":10.75,"v":1.075},{"s":"CoNi","f":11,"v":1.085},{"s":"CoNi","f":11.25,"v":1.08},{"s":"CoNi","f":11.5,"v":1.072},{"s":"CoNi","f":11.75,"v":1.07},
{"s":"CoNi","f":12,"v":1.08},{"s":"CoNi","f":12.25,"v":1.093},{"s":"CoNi","f":12.5,"v":1.08},{"s":"CoNi","f":12.75,"v":1.065},{"s":"CoNi","f":13,"v":1.045},{"s":"CoNi","f":13.25,"v":1.01},{"s":"CoNi","f":13.5,"v":0.985},{"s":"CoNi","f":13.75,"v":0.978},{"s":"CoNi","f":14,"v":0.972},{"s":"CoNi","f":14.25,"v":0.968},
{"s":"CoNi","f":14.5,"v":0.952},{"s":"CoNi","f":14.75,"v":0.938},{"s":"CoNi","f":15,"v":0.942},{"s":"CoNi","f":15.25,"v":0.952},{"s":"CoNi","f":15.5,"v":0.965},{"s":"CoNi","f":15.75,"v":0.98},{"s":"CoNi","f":16,"v":0.97},{"s":"CoNi","f":16.25,"v":0.94},{"s":"CoNi","f":16.5,"v":0.932},{"s":"CoNi","f":16.75,"v":0.955},
{"s":"CoNi","f":17,"v":0.968},{"s":"CoNi","f":17.25,"v":0.95},{"s":"CoNi","f":17.5,"v":0.93},{"s":"CoNi","f":17.75,"v":0.945},{"s":"CoNi","f":18,"v":0.955},
{"s":"CCC","f":2,"v":1.48},{"s":"CCC","f":2.25,"v":1.40},{"s":"CCC","f":2.5,"v":1.35},{"s":"CCC","f":2.75,"v":1.31},{"s":"CCC","f":3,"v":1.29},{"s":"CCC","f":3.25,"v":1.265},{"s":"CCC","f":3.5,"v":1.235},{"s":"CCC","f":3.75,"v":1.21},{"s":"CCC","f":4,"v":1.21},{"s":"CCC","f":4.25,"v":1.232},
{"s":"CCC","f":4.5,"v":1.24},{"s":"CCC","f":4.75,"v":1.23},{"s":"CCC","f":5,"v":1.21},{"s":"CCC","f":5.25,"v":1.235},{"s":"CCC","f":5.5,"v":1.255},{"s":"CCC","f":5.75,"v":1.23},{"s":"CCC","f":6,"v":1.215},{"s":"CCC","f":6.25,"v":1.22},{"s":"CCC","f":6.5,"v":1.225},{"s":"CCC","f":6.75,"v":1.23},
{"s":"CCC","f":7,"v":1.232},{"s":"CCC","f":7.25,"v":1.228},{"s":"CCC","f":7.5,"v":1.225},{"s":"CCC","f":7.75,"v":1.222},{"s":"CCC","f":8,"v":1.222},{"s":"CCC","f":8.25,"v":1.225},{"s":"CCC","f":8.5,"v":1.222},{"s":"CCC","f":8.75,"v":1.215},{"s":"CCC","f":9,"v":1.225},{"s":"CCC","f":9.25,"v":1.232},
{"s":"CCC","f":9.5,"v":1.22},{"s":"CCC","f":9.75,"v":1.205},{"s":"CCC","f":10,"v":1.20},{"s":"CCC","f":10.25,"v":1.205},{"s":"CCC","f":10.5,"v":1.215},{"s":"CCC","f":10.75,"v":1.21},{"s":"CCC","f":11,"v":1.20},{"s":"CCC","f":11.25,"v":1.195},{"s":"CCC","f":11.5,"v":1.19},{"s":"CCC","f":11.75,"v":1.185},
{"s":"CCC","f":12,"v":1.17},{"s":"CCC","f":12.25,"v":1.155},{"s":"CCC","f":12.5,"v":1.16},{"s":"CCC","f":12.75,"v":1.165},{"s":"CCC","f":13,"v":1.162},{"s":"CCC","f":13.25,"v":1.158},{"s":"CCC","f":13.5,"v":1.154},{"s":"CCC","f":13.75,"v":1.165},{"s":"CCC","f":14,"v":1.178},{"s":"CCC","f":14.25,"v":1.17},
{"s":"CCC","f":14.5,"v":1.15},{"s":"CCC","f":14.75,"v":1.145},{"s":"CCC","f":15,"v":1.15},{"s":"CCC","f":15.25,"v":1.155},{"s":"CCC","f":15.5,"v":1.145},{"s":"CCC","f":15.75,"v":1.13},{"s":"CCC","f":16,"v":1.138},{"s":"CCC","f":16.25,"v":1.152},{"s":"CCC","f":16.5,"v":1.15},{"s":"CCC","f":16.75,"v":1.145},
{"s":"CCC","f":17,"v":1.145},{"s":"CCC","f":17.25,"v":1.13},{"s":"CCC","f":17.5,"v":1.123},{"s":"CCC","f":17.75,"v":1.15},{"s":"CCC","f":18,"v":1.175},
{"s":"CNCC","f":2,"v":1.345},{"s":"CNCC","f":2.25,"v":1.32},{"s":"CNCC","f":2.5,"v":1.30},{"s":"CNCC","f":2.75,"v":1.32},{"s":"CNCC","f":3,"v":1.318},{"s":"CNCC","f":3.25,"v":1.31},{"s":"CNCC","f":3.5,"v":1.292},{"s":"CNCC","f":3.75,"v":1.28},{"s":"CNCC","f":4,"v":1.282},{"s":"CNCC","f":4.25,"v":1.292},
{"s":"CNCC","f":4.5,"v":1.30},{"s":"CNCC","f":4.75,"v":1.295},{"s":"CNCC","f":5,"v":1.27},{"s":"CNCC","f":5.25,"v":1.265},{"s":"CNCC","f":5.5,"v":1.30},{"s":"CNCC","f":5.75,"v":1.27},{"s":"CNCC","f":6,"v":1.24},{"s":"CNCC","f":6.25,"v":1.232},{"s":"CNCC","f":6.5,"v":1.245},{"s":"CNCC","f":6.75,"v":1.255},
{"s":"CNCC","f":7,"v":1.262},{"s":"CNCC","f":7.25,"v":1.26},{"s":"CNCC","f":7.5,"v":1.255},{"s":"CNCC","f":7.75,"v":1.255},{"s":"CNCC","f":8,"v":1.265},{"s":"CNCC","f":8.25,"v":1.268},{"s":"CNCC","f":8.5,"v":1.258},{"s":"CNCC","f":8.75,"v":1.248},{"s":"CNCC","f":9,"v":1.248},{"s":"CNCC","f":9.25,"v":1.252},
{"s":"CNCC","f":9.5,"v":1.255},{"s":"CNCC","f":9.75,"v":1.22},{"s":"CNCC","f":10,"v":1.185},{"s":"CNCC","f":10.25,"v":1.17},{"s":"CNCC","f":10.5,"v":1.16},{"s":"CNCC","f":10.75,"v":1.13},{"s":"CNCC","f":11,"v":1.095},{"s":"CNCC","f":11.25,"v":1.055},{"s":"CNCC","f":11.5,"v":1.05},{"s":"CNCC","f":11.75,"v":1.07},
{"s":"CNCC","f":12,"v":1.078},{"s":"CNCC","f":12.25,"v":1.072},{"s":"CNCC","f":12.5,"v":1.07},{"s":"CNCC","f":12.75,"v":1.08},{"s":"CNCC","f":13,"v":1.093},{"s":"CNCC","f":13.25,"v":1.098},{"s":"CNCC","f":13.5,"v":1.10},{"s":"CNCC","f":13.75,"v":1.112},{"s":"CNCC","f":14,"v":1.11},{"s":"CNCC","f":14.25,"v":1.085},
{"s":"CNCC","f":14.5,"v":1.065},{"s":"CNCC","f":14.75,"v":1.04},{"s":"CNCC","f":15,"v":1.03},{"s":"CNCC","f":15.25,"v":1.045},{"s":"CNCC","f":15.5,"v":1.054},{"s":"CNCC","f":15.75,"v":1.00},{"s":"CNCC","f":16,"v":0.94},{"s":"CNCC","f":16.25,"v":0.96},{"s":"CNCC","f":16.5,"v":0.985},{"s":"CNCC","f":16.75,"v":1.015},
{"s":"CNCC","f":17,"v":1.005},{"s":"CNCC","f":17.25,"v":0.99},{"s":"CNCC","f":17.5,"v":0.978},{"s":"CNCC","f":17.75,"v":1.02},{"s":"CNCC","f":18,"v":1.07}
],
"e": [
{"s":"CNFs","f":2,"v":0.066},{"s":"CNFs","f":2.25,"v":0.06},{"s":"CNFs","f":2.5,"v":0.055},{"s":"CNFs","f":2.75,"v":0.054},{"s":"CNFs","f":3,"v":0.055},{"s":"CNFs","f":3.25,"v":0.054},{"s":"CNFs","f":3.5,"v":0.052},{"s":"CNFs","f":3.75,"v":0.05},{"s":"CNFs","f":4,"v":0.049},{"s":"CNFs","f":4.25,"v":0.047},
{"s":"CNFs","f":4.5,"v":0.044},{"s":"CNFs","f":4.75,"v":0.042},{"s":"CNFs","f":5,"v":0.046},{"s":"CNFs","f":5.25,"v":0.049},{"s":"CNFs","f":5.5,"v":0.05},{"s":"CNFs","f":5.75,"v":0.049},{"s":"CNFs","f":6,"v":0.047},{"s":"CNFs","f":6.25,"v":0.047},{"s":"CNFs","f":6.5,"v":0.058},{"s":"CNFs","f":6.75,"v":0.064},
{"s":"CNFs","f":7,"v":0.06},{"s":"CNFs","f":7.25,"v":0.056},{"s":"CNFs","f":7.5,"v":0.056},{"s":"CNFs","f":7.75,"v":0.058},{"s":"CNFs","f":8,"v":0.058},{"s":"CNFs","f":8.25,"v":0.054},{"s":"CNFs","f":8.5,"v":0.047},{"s":"CNFs","f":8.75,"v":0.04},{"s":"CNFs","f":9,"v":0.035},{"s":"CNFs","f":9.25,"v":0.03},
{"s":"CNFs","f":9.5,"v":0.026},{"s":"CNFs","f":9.75,"v":0.02},{"s":"CNFs","f":10,"v":0.016},{"s":"CNFs","f":10.25,"v":0.014},{"s":"CNFs","f":10.5,"v":0.014},{"s":"CNFs","f":10.75,"v":0.013},{"s":"CNFs","f":11,"v":0.012},{"s":"CNFs","f":11.25,"v":0.01},{"s":"CNFs","f":11.5,"v":0.008},{"s":"CNFs","f":11.75,"v":0.009},
{"s":"CNFs","f":12,"v":0.011},{"s":"CNFs","f":12.25,"v":0.01},{"s":"CNFs","f":12.5,"v":0.005},{"s":"CNFs","f":12.75,"v":0.0},{"s":"CNFs","f":13,"v":-0.002},{"s":"CNFs","f":13.25,"v":-0.002},{"s":"CNFs","f":13.5,"v":-0.002},{"s":"CNFs","f":13.75,"v":0.0},{"s":"CNFs","f":14,"v":0.002},{"s":"CNFs","f":14.25,"v":0.003},
{"s":"CNFs","f":14.5,"v":-0.002},{"s":"CNFs","f":14.75,"v":-0.007},{"s":"CNFs","f":15,"v":0.005},{"s":"CNFs","f":15.25,"v":0.012},{"s":"CNFs","f":15.5,"v":0.003},{"s":"CNFs","f":15.75,"v":-0.007},{"s":"CNFs","f":16,"v":-0.01},{"s":"CNFs","f":16.25,"v":-0.012},{"s":"CNFs","f":16.5,"v":-0.008},{"s":"CNFs","f":16.75,"v":-0.003},
{"s":"CNFs","f":17,"v":-0.01},{"s":"CNFs","f":17.25,"v":-0.017},{"s":"CNFs","f":17.5,"v":-0.017},{"s":"CNFs","f":17.75,"v":-0.005},{"s":"CNFs","f":18,"v":0.003},
{"s":"Co","f":2,"v":0.136},{"s":"Co","f":2.25,"v":0.132},{"s":"Co","f":2.5,"v":0.127},{"s":"Co","f":2.75,"v":0.135},{"s":"Co","f":3,"v":0.144},{"s":"Co","f":3.25,"v":0.152},{"s":"Co","f":3.5,"v":0.162},{"s":"Co","f":3.75,"v":0.178},{"s":"Co","f":4,"v":0.202},{"s":"Co","f":4.25,"v":0.228},
{"s":"Co","f":4.5,"v":0.26},{"s":"Co","f":4.75,"v":0.30},{"s":"Co","f":5,"v":0.358},{"s":"Co","f":5.25,"v":0.433},{"s":"Co","f":5.5,"v":0.52},{"s":"Co","f":5.75,"v":0.535},{"s":"Co","f":6,"v":0.47},{"s":"Co","f":6.25,"v":0.402},{"s":"Co","f":6.5,"v":0.34},{"s":"Co","f":6.75,"v":0.283},
{"s":"Co","f":7,"v":0.222},{"s":"Co","f":7.25,"v":0.15},{"s":"Co","f":7.5,"v":0.105},{"s":"Co","f":7.75,"v":0.098},{"s":"Co","f":8,"v":0.092},{"s":"Co","f":8.25,"v":0.08},{"s":"Co","f":8.5,"v":0.073},{"s":"Co","f":8.75,"v":0.068},{"s":"Co","f":9,"v":0.064},{"s":"Co","f":9.25,"v":0.065},
{"s":"Co","f":9.5,"v":0.067},{"s":"Co","f":9.75,"v":0.07},{"s":"Co","f":10,"v":0.074},{"s":"Co","f":10.25,"v":0.078},{"s":"Co","f":10.5,"v":0.083},{"s":"Co","f":10.75,"v":0.093},{"s":"Co","f":11,"v":0.102},{"s":"Co","f":11.25,"v":0.112},{"s":"Co","f":11.5,"v":0.123},{"s":"Co","f":11.75,"v":0.14},
{"s":"Co","f":12,"v":0.161},{"s":"Co","f":12.25,"v":0.183},{"s":"Co","f":12.5,"v":0.207},{"s":"Co","f":12.75,"v":0.23},{"s":"Co","f":13,"v":0.241},{"s":"Co","f":13.25,"v":0.243},{"s":"Co","f":13.5,"v":0.236},{"s":"Co","f":13.75,"v":0.215},{"s":"Co","f":14,"v":0.185},{"s":"Co","f":14.25,"v":0.15},
{"s":"Co","f":14.5,"v":0.115},{"s":"Co","f":14.75,"v":0.107},{"s":"Co","f":15,"v":0.102},{"s":"Co","f":15.25,"v":0.092},{"s":"Co","f":15.5,"v":0.07},{"s":"Co","f":15.75,"v":0.055},{"s":"Co","f":16,"v":0.048},{"s":"Co","f":16.25,"v":0.052},{"s":"Co","f":16.5,"v":0.054},{"s":"Co","f":16.75,"v":0.042},
{"s":"Co","f":17,"v":0.022},{"s":"Co","f":17.25,"v":0.008},{"s":"Co","f":17.5,"v":0.013},{"s":"Co","f":17.75,"v":0.005},{"s":"Co","f":18,"v":-0.007},
{"s":"CoNi","f":2,"v":0.11},{"s":"CoNi","f":2.25,"v":0.112},{"s":"CoNi","f":2.5,"v":0.118},{"s":"CoNi","f":2.75,"v":0.123},{"s":"CoNi","f":3,"v":0.128},{"s":"CoNi","f":3.25,"v":0.137},{"s":"CoNi","f":3.5,"v":0.15},{"s":"CoNi","f":3.75,"v":0.165},{"s":"CoNi","f":4,"v":0.183},{"s":"CoNi","f":4.25,"v":0.205},
{"s":"CoNi","f":4.5,"v":0.238},{"s":"CoNi","f":4.75,"v":0.30},{"s":"CoNi","f":5,"v":0.43},{"s":"CoNi","f":5.25,"v":0.54},{"s":"CoNi","f":5.5,"v":0.583},{"s":"CoNi","f":5.75,"v":0.49},{"s":"CoNi","f":6,"v":0.35},{"s":"CoNi","f":6.25,"v":0.243},{"s":"CoNi","f":6.5,"v":0.195},{"s":"CoNi","f":6.75,"v":0.158},
{"s":"CoNi","f":7,"v":0.10},{"s":"CoNi","f":7.25,"v":0.057},{"s":"CoNi","f":7.5,"v":0.032},{"s":"CoNi","f":7.75,"v":0.034},{"s":"CoNi","f":8,"v":0.038},{"s":"CoNi","f":8.25,"v":0.038},{"s":"CoNi","f":8.5,"v":0.036},{"s":"CoNi","f":8.75,"v":0.034},{"s":"CoNi","f":9,"v":0.032},{"s":"CoNi","f":9.25,"v":0.03},
{"s":"CoNi","f":9.5,"v":0.028},{"s":"CoNi","f":9.75,"v":0.025},{"s":"CoNi","f":10,"v":0.023},{"s":"CoNi","f":10.25,"v":0.022},{"s":"CoNi","f":10.5,"v":0.022},{"s":"CoNi","f":10.75,"v":0.023},{"s":"CoNi","f":11,"v":0.028},{"s":"CoNi","f":11.25,"v":0.034},{"s":"CoNi","f":11.5,"v":0.04},{"s":"CoNi","f":11.75,"v":0.047},
{"s":"CoNi","f":12,"v":0.055},{"s":"CoNi","f":12.25,"v":0.061},{"s":"CoNi","f":12.5,"v":0.068},{"s":"CoNi","f":12.75,"v":0.075},{"s":"CoNi","f":13,"v":0.08},{"s":"CoNi","f":13.25,"v":0.085},{"s":"CoNi","f":13.5,"v":0.09},{"s":"CoNi","f":13.75,"v":0.092},{"s":"CoNi","f":14,"v":0.07},{"s":"CoNi","f":14.25,"v":0.044},
{"s":"CoNi","f":14.5,"v":0.04},{"s":"CoNi","f":14.75,"v":0.038},{"s":"CoNi","f":15,"v":0.034},{"s":"CoNi","f":15.25,"v":0.036},{"s":"CoNi","f":15.5,"v":0.039},{"s":"CoNi","f":15.75,"v":0.03},{"s":"CoNi","f":16,"v":0.018},{"s":"CoNi","f":16.25,"v":0.008},{"s":"CoNi","f":16.5,"v":0.002},{"s":"CoNi","f":16.75,"v":-0.018},
{"s":"CoNi","f":17,"v":-0.03},{"s":"CoNi","f":17.25,"v":-0.038},{"s":"CoNi","f":17.5,"v":-0.034},{"s":"CoNi","f":17.75,"v":-0.038},{"s":"CoNi","f":18,"v":-0.08},
{"s":"CCC","f":2,"v":0.105},{"s":"CCC","f":2.25,"v":0.102},{"s":"CCC","f":2.5,"v":0.10},{"s":"CCC","f":2.75,"v":0.098},{"s":"CCC","f":3,"v":0.096},{"s":"CCC","f":3.25,"v":0.08},{"s":"CCC","f":3.5,"v":0.064},{"s":"CCC","f":3.75,"v":0.047},{"s":"CCC","f":4,"v":0.038},{"s":"CCC","f":4.25,"v":0.032},
{"s":"CCC","f":4.5,"v":0.026},{"s":"CCC","f":4.75,"v":0.022},{"s":"CCC","f":5,"v":0.02},{"s":"CCC","f":5.25,"v":0.018},{"s":"CCC","f":5.5,"v":0.017},{"s":"CCC","f":5.75,"v":0.012},{"s":"CCC","f":6,"v":0.008},{"s":"CCC","f":6.25,"v":0.009},{"s":"CCC","f":6.5,"v":0.012},{"s":"CCC","f":6.75,"v":0.013},
{"s":"CCC","f":7,"v":0.01},{"s":"CCC","f":7.25,"v":0.004},{"s":"CCC","f":7.5,"v":-0.002},{"s":"CCC","f":7.75,"v":0.002},{"s":"CCC","f":8,"v":0.006},{"s":"CCC","f":8.25,"v":0.008},{"s":"CCC","f":8.5,"v":0.007},{"s":"CCC","f":8.75,"v":0.006},{"s":"CCC","f":9,"v":0.005},{"s":"CCC","f":9.25,"v":0.006},
{"s":"CCC","f":9.5,"v":0.008},{"s":"CCC","f":9.75,"v":0.009},{"s":"CCC","f":10,"v":0.01},{"s":"CCC","f":10.25,"v":0.012},{"s":"CCC","f":10.5,"v":0.014},{"s":"CCC","f":10.75,"v":0.016},{"s":"CCC","f":11,"v":0.018},{"s":"CCC","f":11.25,"v":0.019},{"s":"CCC","f":11.5,"v":0.02},{"s":"CCC","f":11.75,"v":0.02},
{"s":"CCC","f":12,"v":0.018},{"s":"CCC","f":12.25,"v":0.015},{"s":"CCC","f":12.5,"v":0.013},{"s":"CCC","f":12.75,"v":0.01},{"s":"CCC","f":13,"v":0.009},{"s":"CCC","f":13.25,"v":0.008},{"s":"CCC","f":13.5,"v":0.01},{"s":"CCC","f":13.75,"v":0.013},{"s":"CCC","f":14,"v":0.013},{"s":"CCC","f":14.25,"v":0.014},
{"s":"CCC","f":14.5,"v":0.015},{"s":"CCC","f":14.75,"v":0.016},{"s":"CCC","f":15,"v":0.018},{"s":"CCC","f":15.25,"v":0.02},{"s":"CCC","f":15.5,"v":0.016},{"s":"CCC","f":15.75,"v":0.01},{"s":"CCC","f":16,"v":0.008},{"s":"CCC","f":16.25,"v":0.01},{"s":"CCC","f":16.5,"v":0.013},{"s":"CCC","f":16.75,"v":0.012},
{"s":"CCC","f":17,"v":0.009},{"s":"CCC","f":17.25,"v":0.006},{"s":"CCC","f":17.5,"v":0.003},{"s":"CCC","f":17.75,"v":0.002},{"s":"CCC","f":18,"v":0.0},
{"s":"CNCC","f":2,"v":0.018},{"s":"CNCC","f":2.25,"v":0.012},{"s":"CNCC","f":2.5,"v":0.008},{"s":"CNCC","f":2.75,"v":0.01},{"s":"CNCC","f":3,"v":0.011},{"s":"CNCC","f":3.25,"v":0.011},{"s":"CNCC","f":3.5,"v":0.01},{"s":"CNCC","f":3.75,"v":0.012},{"s":"CNCC","f":4,"v":0.013},{"s":"CNCC","f":4.25,"v":0.011},
{"s":"CNCC","f":4.5,"v":0.008},{"s":"CNCC","f":4.75,"v":0.007},{"s":"CNCC","f":5,"v":0.012},{"s":"CNCC","f":5.25,"v":0.018},{"s":"CNCC","f":5.5,"v":0.02},{"s":"CNCC","f":5.75,"v":0.012},{"s":"CNCC","f":6,"v":0.004},{"s":"CNCC","f":6.25,"v":0.004},{"s":"CNCC","f":6.5,"v":0.01},{"s":"CNCC","f":6.75,"v":0.018},
{"s":"CNCC","f":7,"v":0.017},{"s":"CNCC","f":7.25,"v":0.012},{"s":"CNCC","f":7.5,"v":0.008},{"s":"CNCC","f":7.75,"v":0.012},{"s":"CNCC","f":8,"v":0.018},{"s":"CNCC","f":8.25,"v":0.023},{"s":"CNCC","f":8.5,"v":0.029},{"s":"CNCC","f":8.75,"v":0.034},{"s":"CNCC","f":9,"v":0.04},{"s":"CNCC","f":9.25,"v":0.045},
{"s":"CNCC","f":9.5,"v":0.05},{"s":"CNCC","f":9.75,"v":0.055},{"s":"CNCC","f":10,"v":0.06},{"s":"CNCC","f":10.25,"v":0.063},{"s":"CNCC","f":10.5,"v":0.064},{"s":"CNCC","f":10.75,"v":0.063},{"s":"CNCC","f":11,"v":0.06},{"s":"CNCC","f":11.25,"v":0.056},{"s":"CNCC","f":11.5,"v":0.051},{"s":"CNCC","f":11.75,"v":0.046},
{"s":"CNCC","f":12,"v":0.042},{"s":"CNCC","f":12.25,"v":0.038},{"s":"CNCC","f":12.5,"v":0.034},{"s":"CNCC","f":12.75,"v":0.03},{"s":"CNCC","f":13,"v":0.026},{"s":"CNCC","f":13.25,"v":0.024},{"s":"CNCC","f":13.5,"v":0.03},{"s":"CNCC","f":13.75,"v":0.038},{"s":"CNCC","f":14,"v":0.052},{"s":"CNCC","f":14.25,"v":0.05},
{"s":"CNCC","f":14.5,"v":0.044},{"s":"CNCC","f":14.75,"v":0.046},{"s":"CNCC","f":15,"v":0.049},{"s":"CNCC","f":15.25,"v":0.052},{"s":"CNCC","f":15.5,"v":0.05},{"s":"CNCC","f":15.75,"v":0.04},{"s":"CNCC","f":16,"v":0.035},{"s":"CNCC","f":16.25,"v":0.032},{"s":"CNCC","f":16.5,"v":0.029},{"s":"CNCC","f":16.75,"v":0.024},
{"s":"CNCC","f":17,"v":0.02},{"s":"CNCC","f":17.25,"v":0.015},{"s":"CNCC","f":17.5,"v":0.01},{"s":"CNCC","f":17.75,"v":0.005},{"s":"CNCC","f":18,"v":0.003}
],
"f": [
{"s":"CNFs","f":2,"v":0.066},{"s":"CNFs","f":2.25,"v":0.06},{"s":"CNFs","f":2.5,"v":0.054},{"s":"CNFs","f":2.75,"v":0.051},{"s":"CNFs","f":3,"v":0.049},{"s":"CNFs","f":3.25,"v":0.047},{"s":"CNFs","f":3.5,"v":0.046},{"s":"CNFs","f":3.75,"v":0.044},{"s":"CNFs","f":4,"v":0.042},{"s":"CNFs","f":4.25,"v":0.041},
{"s":"CNFs","f":4.5,"v":0.043},{"s":"CNFs","f":4.75,"v":0.045},{"s":"CNFs","f":5,"v":0.046},{"s":"CNFs","f":5.25,"v":0.046},{"s":"CNFs","f":5.5,"v":0.046},{"s":"CNFs","f":5.75,"v":0.046},{"s":"CNFs","f":6,"v":0.046},{"s":"CNFs","f":6.25,"v":0.047},{"s":"CNFs","f":6.5,"v":0.053},{"s":"CNFs","f":6.75,"v":0.058},
{"s":"CNFs","f":7,"v":0.061},{"s":"CNFs","f":7.25,"v":0.058},{"s":"CNFs","f":7.5,"v":0.053},{"s":"CNFs","f":7.75,"v":0.052},{"s":"CNFs","f":8,"v":0.055},{"s":"CNFs","f":8.25,"v":0.055},{"s":"CNFs","f":8.5,"v":0.048},{"s":"CNFs","f":8.75,"v":0.04},{"s":"CNFs","f":9,"v":0.034},{"s":"CNFs","f":9.25,"v":0.031},
{"s":"CNFs","f":9.5,"v":0.028},{"s":"CNFs","f":9.75,"v":0.024},{"s":"CNFs","f":10,"v":0.02},{"s":"CNFs","f":10.25,"v":0.017},{"s":"CNFs","f":10.5,"v":0.014},{"s":"CNFs","f":10.75,"v":0.012},{"s":"CNFs","f":11,"v":0.01},{"s":"CNFs","f":11.25,"v":0.008},{"s":"CNFs","f":11.5,"v":0.007},{"s":"CNFs","f":11.75,"v":0.005},
{"s":"CNFs","f":12,"v":0.003},{"s":"CNFs","f":12.25,"v":0.001},{"s":"CNFs","f":12.5,"v":0.0},{"s":"CNFs","f":12.75,"v":0.0},{"s":"CNFs","f":13,"v":0.0},{"s":"CNFs","f":13.25,"v":0.0},{"s":"CNFs","f":13.5,"v":0.0},{"s":"CNFs","f":13.75,"v":0.0},{"s":"CNFs","f":14,"v":0.002},{"s":"CNFs","f":14.25,"v":0.004},
{"s":"CNFs","f":14.5,"v":0.004},{"s":"CNFs","f":14.75,"v":-0.004},{"s":"CNFs","f":15,"v":-0.01},{"s":"CNFs","f":15.25,"v":0.002},{"s":"CNFs","f":15.5,"v":0.004},{"s":"CNFs","f":15.75,"v":-0.002},{"s":"CNFs","f":16,"v":-0.008},{"s":"CNFs","f":16.25,"v":-0.013},{"s":"CNFs","f":16.5,"v":-0.014},{"s":"CNFs","f":16.75,"v":-0.01},
{"s":"CNFs","f":17,"v":-0.007},{"s":"CNFs","f":17.25,"v":-0.013},{"s":"CNFs","f":17.5,"v":-0.02},{"s":"CNFs","f":17.75,"v":-0.017},{"s":"CNFs","f":18,"v":-0.015},
{"s":"Co","f":2,"v":0.087},{"s":"Co","f":2.25,"v":0.09},{"s":"Co","f":2.5,"v":0.094},{"s":"Co","f":2.75,"v":0.098},{"s":"Co","f":3,"v":0.103},{"s":"Co","f":3.25,"v":0.11},{"s":"Co","f":3.5,"v":0.123},{"s":"Co","f":3.75,"v":0.138},{"s":"Co","f":4,"v":0.155},{"s":"Co","f":4.25,"v":0.17},
{"s":"Co","f":4.5,"v":0.198},{"s":"Co","f":4.75,"v":0.245},{"s":"Co","f":5,"v":0.295},{"s":"Co","f":5.25,"v":0.34},{"s":"Co","f":5.5,"v":0.39},{"s":"Co","f":5.75,"v":0.44},{"s":"Co","f":6,"v":0.455},{"s":"Co","f":6.25,"v":0.415},{"s":"Co","f":6.5,"v":0.355},{"s":"Co","f":6.75,"v":0.29},
{"s":"Co","f":7,"v":0.222},{"s":"Co","f":7.25,"v":0.16},{"s":"Co","f":7.5,"v":0.122},{"s":"Co","f":7.75,"v":0.112},{"s":"Co","f":8,"v":0.103},{"s":"Co","f":8.25,"v":0.095},{"s":"Co","f":8.5,"v":0.085},{"s":"Co","f":8.75,"v":0.077},{"s":"Co","f":9,"v":0.07},{"s":"Co","f":9.25,"v":0.067},
{"s":"Co","f":9.5,"v":0.069},{"s":"Co","f":9.75,"v":0.072},{"s":"Co","f":10,"v":0.074},{"s":"Co","f":10.25,"v":0.076},{"s":"Co","f":10.5,"v":0.08},{"s":"Co","f":10.75,"v":0.087},{"s":"Co","f":11,"v":0.095},{"s":"Co","f":11.25,"v":0.106},{"s":"Co","f":11.5,"v":0.12},{"s":"Co","f":11.75,"v":0.138},
{"s":"Co","f":12,"v":0.158},{"s":"Co","f":12.25,"v":0.177},{"s":"Co","f":12.5,"v":0.196},{"s":"Co","f":12.75,"v":0.215},{"s":"Co","f":13,"v":0.232},{"s":"Co","f":13.25,"v":0.242},{"s":"Co","f":13.5,"v":0.244},{"s":"Co","f":13.75,"v":0.235},{"s":"Co","f":14,"v":0.212},{"s":"Co","f":14.25,"v":0.183},
{"s":"Co","f":14.5,"v":0.153},{"s":"Co","f":14.75,"v":0.123},{"s":"Co","f":15,"v":0.114},{"s":"Co","f":15.25,"v":0.112},{"s":"Co","f":15.5,"v":0.082},{"s":"Co","f":15.75,"v":0.062},{"s":"Co","f":16,"v":0.057},{"s":"Co","f":16.25,"v":0.06},{"s":"Co","f":16.5,"v":0.058},{"s":"Co","f":16.75,"v":0.044},
{"s":"Co","f":17,"v":0.025},{"s":"Co","f":17.25,"v":0.014},{"s":"Co","f":17.5,"v":0.015},{"s":"Co","f":17.75,"v":0.006},{"s":"Co","f":18,"v":0.0},
{"s":"CoNi","f":2,"v":0.087},{"s":"CoNi","f":2.25,"v":0.087},{"s":"CoNi","f":2.5,"v":0.087},{"s":"CoNi","f":2.75,"v":0.089},{"s":"CoNi","f":3,"v":0.098},{"s":"CoNi","f":3.25,"v":0.108},{"s":"CoNi","f":3.5,"v":0.12},{"s":"CoNi","f":3.75,"v":0.133},{"s":"CoNi","f":4,"v":0.145},{"s":"CoNi","f":4.25,"v":0.156},
{"s":"CoNi","f":4.5,"v":0.178},{"s":"CoNi","f":4.75,"v":0.24},{"s":"CoNi","f":5,"v":0.34},{"s":"CoNi","f":5.25,"v":0.44},{"s":"CoNi","f":5.5,"v":0.56},{"s":"CoNi","f":5.75,"v":0.565},{"s":"CoNi","f":6,"v":0.44},{"s":"CoNi","f":6.25,"v":0.32},{"s":"CoNi","f":6.5,"v":0.225},{"s":"CoNi","f":6.75,"v":0.158},
{"s":"CoNi","f":7,"v":0.095},{"s":"CoNi","f":7.25,"v":0.065},{"s":"CoNi","f":7.5,"v":0.057},{"s":"CoNi","f":7.75,"v":0.052},{"s":"CoNi","f":8,"v":0.05},{"s":"CoNi","f":8.25,"v":0.048},{"s":"CoNi","f":8.5,"v":0.046},{"s":"CoNi","f":8.75,"v":0.045},{"s":"CoNi","f":9,"v":0.043},{"s":"CoNi","f":9.25,"v":0.041},
{"s":"CoNi","f":9.5,"v":0.042},{"s":"CoNi","f":9.75,"v":0.044},{"s":"CoNi","f":10,"v":0.046},{"s":"CoNi","f":10.25,"v":0.047},{"s":"CoNi","f":10.5,"v":0.049},{"s":"CoNi","f":10.75,"v":0.052},{"s":"CoNi","f":11,"v":0.057},{"s":"CoNi","f":11.25,"v":0.062},{"s":"CoNi","f":11.5,"v":0.068},{"s":"CoNi","f":11.75,"v":0.073},
{"s":"CoNi","f":12,"v":0.079},{"s":"CoNi","f":12.25,"v":0.085},{"s":"CoNi","f":12.5,"v":0.092},{"s":"CoNi","f":12.75,"v":0.099},{"s":"CoNi","f":13,"v":0.106},{"s":"CoNi","f":13.25,"v":0.113},{"s":"CoNi","f":13.5,"v":0.119},{"s":"CoNi","f":13.75,"v":0.122},{"s":"CoNi","f":14,"v":0.103},{"s":"CoNi","f":14.25,"v":0.08},
{"s":"CoNi","f":14.5,"v":0.066},{"s":"CoNi","f":14.75,"v":0.058},{"s":"CoNi","f":15,"v":0.053},{"s":"CoNi","f":15.25,"v":0.048},{"s":"CoNi","f":15.5,"v":0.044},{"s":"CoNi","f":15.75,"v":0.039},{"s":"CoNi","f":16,"v":0.033},{"s":"CoNi","f":16.25,"v":0.022},{"s":"CoNi","f":16.5,"v":0.012},{"s":"CoNi","f":16.75,"v":0.0},
{"s":"CoNi","f":17,"v":-0.01},{"s":"CoNi","f":17.25,"v":-0.012},{"s":"CoNi","f":17.5,"v":-0.015},{"s":"CoNi","f":17.75,"v":-0.025},{"s":"CoNi","f":18,"v":-0.035},
{"s":"CCC","f":2,"v":0.092},{"s":"CCC","f":2.25,"v":0.1},{"s":"CCC","f":2.5,"v":0.107},{"s":"CCC","f":2.75,"v":0.11},{"s":"CCC","f":3,"v":0.112},{"s":"CCC","f":3.25,"v":0.107},{"s":"CCC","f":3.5,"v":0.095},{"s":"CCC","f":3.75,"v":0.078},{"s":"CCC","f":4,"v":0.068},{"s":"CCC","f":4.25,"v":0.058},
{"s":"CCC","f":4.5,"v":0.05},{"s":"CCC","f":4.75,"v":0.043},{"s":"CCC","f":5,"v":0.038},{"s":"CCC","f":5.25,"v":0.033},{"s":"CCC","f":5.5,"v":0.029},{"s":"CCC","f":5.75,"v":0.025},{"s":"CCC","f":6,"v":0.021},{"s":"CCC","f":6.25,"v":0.019},{"s":"CCC","f":6.5,"v":0.017},{"s":"CCC","f":6.75,"v":0.015},
{"s":"CCC","f":7,"v":0.012},{"s":"CCC","f":7.25,"v":0.008},{"s":"CCC","f":7.5,"v":0.005},{"s":"CCC","f":7.75,"v":0.007},{"s":"CCC","f":8,"v":0.009},{"s":"CCC","f":8.25,"v":0.01},{"s":"CCC","f":8.5,"v":0.012},{"s":"CCC","f":8.75,"v":0.014},{"s":"CCC","f":9,"v":0.016},{"s":"CCC","f":9.25,"v":0.02},
{"s":"CCC","f":9.5,"v":0.024},{"s":"CCC","f":9.75,"v":0.027},{"s":"CCC","f":10,"v":0.029},{"s":"CCC","f":10.25,"v":0.031},{"s":"CCC","f":10.5,"v":0.03},{"s":"CCC","f":10.75,"v":0.028},{"s":"CCC","f":11,"v":0.026},{"s":"CCC","f":11.25,"v":0.027},{"s":"CCC","f":11.5,"v":0.029},{"s":"CCC","f":11.75,"v":0.031},
{"s":"CCC","f":12,"v":0.033},{"s":"CCC","f":12.25,"v":0.035},{"s":"CCC","f":12.5,"v":0.036},{"s":"CCC","f":12.75,"v":0.036},{"s":"CCC","f":13,"v":0.036},{"s":"CCC","f":13.25,"v":0.037},{"s":"CCC","f":13.5,"v":0.039},{"s":"CCC","f":13.75,"v":0.041},{"s":"CCC","f":14,"v":0.041},{"s":"CCC","f":14.25,"v":0.039},
{"s":"CCC","f":14.5,"v":0.037},{"s":"CCC","f":14.75,"v":0.035},{"s":"CCC","f":15,"v":0.033},{"s":"CCC","f":15.25,"v":0.031},{"s":"CCC","f":15.5,"v":0.028},{"s":"CCC","f":15.75,"v":0.022},{"s":"CCC","f":16,"v":0.016},{"s":"CCC","f":16.25,"v":0.015},{"s":"CCC","f":16.5,"v":0.015},{"s":"CCC","f":16.75,"v":0.015},
{"s":"CCC","f":17,"v":0.012},{"s":"CCC","f":17.25,"v":0.008},{"s":"CCC","f":17.5,"v":0.005},{"s":"CCC","f":17.75,"v":0.002},{"s":"CCC","f":18,"v":0.0},
{"s":"CNCC","f":2,"v":0.005},{"s":"CNCC","f":2.25,"v":0.005},{"s":"CNCC","f":2.5,"v":0.005},{"s":"CNCC","f":2.75,"v":0.005},{"s":"CNCC","f":3,"v":0.005},{"s":"CNCC","f":3.25,"v":0.005},{"s":"CNCC","f":3.5,"v":0.005},{"s":"CNCC","f":3.75,"v":0.005},{"s":"CNCC","f":4,"v":0.005},{"s":"CNCC","f":4.25,"v":0.005},
{"s":"CNCC","f":4.5,"v":0.004},{"s":"CNCC","f":4.75,"v":0.004},{"s":"CNCC","f":5,"v":0.004},{"s":"CNCC","f":5.25,"v":0.004},{"s":"CNCC","f":5.5,"v":0.004},{"s":"CNCC","f":5.75,"v":0.004},{"s":"CNCC","f":6,"v":0.004},{"s":"CNCC","f":6.25,"v":0.004},{"s":"CNCC","f":6.5,"v":0.005},{"s":"CNCC","f":6.75,"v":0.005},
{"s":"CNCC","f":7,"v":0.005},{"s":"CNCC","f":7.25,"v":0.005},{"s":"CNCC","f":7.5,"v":0.005},{"s":"CNCC","f":7.75,"v":0.006},{"s":"CNCC","f":8,"v":0.01},{"s":"CNCC","f":8.25,"v":0.014},{"s":"CNCC","f":8.5,"v":0.019},{"s":"CNCC","f":8.75,"v":0.024},{"s":"CNCC","f":9,"v":0.028},{"s":"CNCC","f":9.25,"v":0.031},
{"s":"CNCC","f":9.5,"v":0.035},{"s":"CNCC","f":9.75,"v":0.038},{"s":"CNCC","f":10,"v":0.041},{"s":"CNCC","f":10.25,"v":0.043},{"s":"CNCC","f":10.5,"v":0.045},{"s":"CNCC","f":10.75,"v":0.046},{"s":"CNCC","f":11,"v":0.048},{"s":"CNCC","f":11.25,"v":0.05},{"s":"CNCC","f":11.5,"v":0.051},{"s":"CNCC","f":11.75,"v":0.053},
{"s":"CNCC","f":12,"v":0.055},{"s":"CNCC","f":12.25,"v":0.056},{"s":"CNCC","f":12.5,"v":0.055},{"s":"CNCC","f":12.75,"v":0.05},{"s":"CNCC","f":13,"v":0.047},{"s":"CNCC","f":13.25,"v":0.048},{"s":"CNCC","f":13.5,"v":0.05},{"s":"CNCC","f":13.75,"v":0.048},{"s":"CNCC","f":14,"v":0.046},{"s":"CNCC","f":14.25,"v":0.046},
{"s":"CNCC","f":14.5,"v":0.046},{"s":"CNCC","f":14.75,"v":0.046},{"s":"CNCC","f":15,"v":0.047},{"s":"CNCC","f":15.25,"v":0.046},{"s":"CNCC","f":15.5,"v":0.045},{"s":"CNCC","f":15.75,"v":0.043},{"s":"CNCC","f":16,"v":0.04},{"s":"CNCC","f":16.25,"v":0.036},{"s":"CNCC","f":16.5,"v":0.032},{"s":"CNCC","f":16.75,"v":0.028},
{"s":"CNCC","f":17,"v":0.024},{"s":"CNCC","f":17.25,"v":0.02},{"s":"CNCC","f":17.5,"v":0.016},{"s":"CNCC","f":17.75,"v":0.013},{"s":"CNCC","f":18,"v":0.01}
]
},
"columns": 3,
"spacing": 84,
"bounds": "flush",
"concat": [
{
 "width": 297, "height": 238,
 "title": {"text": "(a)", "dx": -80, "dy": 15},
 "data": {"name": "a"},
 "encoding": {
  "x": {"field": "f", "type": "quantitative", "scale": {"domain": [2, 18], "nice": false}, "axis": {"title": "Frequency (GHz)", "values": [5, 10, 15], "offset": -5}},
  "y": {"field": "v", "type": "quantitative", "scale": {"domain": [1.9, 12.85], "nice": false, "zero": false}, "axis": {"title": "ε′", "values": [3, 6, 9, 12], "format": "d"}}
 },
 "layer": [
  {"mark": {"type": "line", "strokeWidth": 1.3, "clip": true}, "encoding": {"color": {"field": "s", "type": "nominal", "scale": {"domain": ["CNFs","Co","CoNi","CCC","CNCC"], "range": ["#505050","#1f64e0","#35a35a","#a66be3","#ff1414"]}, "legend": {"title": null, "orient": "none", "legendX": 151, "legendY": 2, "rowPadding": -1, "symbolType": "M-5,0L-0.9,0M0.9,0L5,0M0.9,0L0.78,0.45L0.45,0.78L0,0.9L-0.45,0.78L-0.78,0.45L-0.9,0L-0.78,-0.45L-0.45,-0.78L0,-0.9L0.45,-0.78L0.78,-0.45Z", "symbolSize": 64, "symbolStrokeWidth": 3, "labelExpr": "datum.label == 'Co' ? 'Co-C@CNFs' : datum.label == 'CoNi' ? 'CoNi-C@CNFs' : datum.label"}}}},
  {"mark": {"type": "point", "shape": "circle", "filled": true, "fill": "white", "opacity": 1, "size": 30, "clip": true}},
  {"mark": {"type": "point", "shape": "circle", "filled": false, "size": 30, "strokeWidth": 1, "opacity": 1, "clip": true}, "encoding": {"stroke": {"field": "s", "type": "nominal", "scale": {"domain": ["CNFs","Co","CoNi","CCC","CNCC"], "range": ["#8a8a8a","#8c8cff","#8fd49a","#c39af2","#ff8c8c"]}, "legend": null}}}
 ]
},
{
 "width": 297, "height": 238,
 "title": {"text": "(b)", "dx": -66, "dy": 15},
 "data": {"name": "b"},
 "encoding": {
  "x": {"field": "f", "type": "quantitative", "scale": {"domain": [2, 18], "nice": false}, "axis": {"title": "Frequency (GHz)", "values": [5, 10, 15], "offset": -5}},
  "y": {"field": "v", "type": "quantitative", "scale": {"domain": [-0.05, 6], "nice": false, "zero": false}, "axis": {"title": "ε″", "values": [0, 2, 4, 6], "format": "d"}}
 },
 "layer": [
  {"mark": {"type": "line", "strokeWidth": 1.3, "clip": true}, "encoding": {"color": {"field": "s", "type": "nominal", "scale": {"domain": ["CNFs","Co","CoNi","CCC","CNCC"], "range": ["#404040","#2a6be0","#2ca060","#8a1ee8","#ff1414"]}, "legend": {"title": null, "orient": "none", "legendX": 151, "legendY": 5, "symbolType": "M-5,0L-0.9,0M0.9,0L5,0M0.9,0L0.78,0.45L0.45,0.78L0,0.9L-0.45,0.78L-0.78,0.45L-0.9,0L-0.78,-0.45L-0.45,-0.78L0,-0.9L0.45,-0.78L0.78,-0.45Z", "symbolSize": 64, "symbolStrokeWidth": 2, "labelExpr": "datum.label == 'Co' ? 'Co-C@CNFs' : datum.label == 'CoNi' ? 'CoNi-C@CNFs' : datum.label"}}}},
  {"mark": {"type": "point", "shape": "circle", "filled": true, "fill": "white", "opacity": 1, "size": 30, "clip": true}},
  {"mark": {"type": "point", "shape": "circle", "filled": false, "size": 30, "strokeWidth": 1, "opacity": 1, "clip": true}, "encoding": {"stroke": {"field": "s", "type": "nominal", "scale": {"domain": ["CNFs","Co","CoNi","CCC","CNCC"], "range": ["#8a8a8a","#8c8cff","#8fd49a","#c39af2","#ff8c8c"]}, "legend": null}}}
 ]
},
{
 "width": 297, "height": 238,
 "title": {"text": "(c)", "dx": -63, "dy": 15},
 "data": {"name": "c"},
 "encoding": {
  "x": {"field": "f", "type": "quantitative", "scale": {"domain": [2, 18], "nice": false}, "axis": {"title": "Frequency (GHz)", "values": [5, 10, 15], "offset": -5}}
 },
 "layer": [
  {"mark": {"type": "line", "strokeWidth": 1.3, "clip": true}, "encoding": {
    "y": {"field": "v", "type": "quantitative", "scale": {"domain": [-0.01, 1.0], "nice": false, "zero": false}, "axis": {"title": "tanδ", "values": [0, 0.3, 0.6, 0.9], "format": ".1f", "titleFontSize": 32, "titleY": 117}},
    "color": {"field": "s", "type": "nominal", "scale": {"domain": ["CNFs","Co","CoNi","CCC","CNCC"], "range": ["#404040","#2a6be0","#2ca060","#8a1ee8","#ff1414"]}, "legend": {"title": null, "orient": "none", "legendX": 151, "legendY": 5, "symbolType": "M-5,0L-0.9,0M0.9,0L5,0M0.9,0L0.78,0.45L0.45,0.78L0,0.9L-0.45,0.78L-0.78,0.45L-0.9,0L-0.78,-0.45L-0.45,-0.78L0,-0.9L0.45,-0.78L0.78,-0.45Z", "symbolSize": 64, "symbolStrokeWidth": 2, "labelExpr": "datum.label == 'Co' ? 'Co-C@CNFs' : datum.label == 'CoNi' ? 'CoNi-C@CNFs' : datum.label"}}}},
  {"mark": {"type": "point", "shape": "circle", "filled": true, "fill": "white", "opacity": 1, "size": 30, "clip": true}, "encoding": {
    "y": {"field": "v", "type": "quantitative", "scale": {"domain": [-0.01, 1.0], "nice": false, "zero": false}, "axis": {"title": "ε", "labels": false, "ticks": false, "domain": false, "titleFontSize": 17, "titleX": -42, "titleY": 79, "titleAngle": -90, "titleBaseline": "alphabetic", "titleAlign": "center", "orient": "left"}}}},
  {"mark": {"type": "point", "shape": "circle", "filled": false, "size": 30, "strokeWidth": 1, "opacity": 1, "clip": true}, "encoding": {
    "y": {"field": "v", "type": "quantitative", "scale": {"domain": [-0.01, 1.0], "nice": false, "zero": false}, "axis": null},
    "stroke": {"field": "s", "type": "nominal", "scale": {"domain": ["CNFs","Co","CoNi","CCC","CNCC"], "range": ["#8a8a8a","#8c8cff","#8fd49a","#c39af2","#ff8c8c"]}, "legend": null}}}
 ],
 "resolve": {"axis": {"y": "independent"}}
},
{
 "width": 297, "height": 238,
 "title": {"text": "(d)", "dx": -76, "dy": 24},
 "data": {"name": "d"},
 "encoding": {
  "x": {"field": "f", "type": "quantitative", "scale": {"domain": [2, 18], "nice": false}, "axis": {"title": "Frequency (GHz)", "values": [5, 10, 15], "offset": -5}},
  "y": {"field": "v", "type": "quantitative", "scale": {"domain": [0.7, 1.8], "nice": false, "zero": false}, "axis": {"title": "μ′", "values": [0.9, 1.2, 1.5, 1.8], "format": ".1f"}}
 },
 "layer": [
  {"mark": {"type": "line", "strokeWidth": 1.3, "clip": true}, "encoding": {"color": {"field": "s", "type": "nominal", "scale": {"domain": ["CNFs","Co","CoNi","CCC","CNCC"], "range": ["#505050","#1f64e0","#2ca05a","#8a2be2","#ff2020"]}, "legend": {"title": null, "orient": "none", "legendX": 150, "legendY": 6, "symbolType": "M-5,0L-0.9,0M0.9,0L5,0M0.9,0L0.78,0.45L0.45,0.78L0,0.9L-0.45,0.78L-0.78,0.45L-0.9,0L-0.78,-0.45L-0.45,-0.78L0,-0.9L0.45,-0.78L0.78,-0.45Z", "symbolSize": 64, "symbolStrokeWidth": 2, "labelExpr": "datum.label == 'Co' ? 'Co-C@CNFs' : datum.label == 'CoNi' ? 'CoNi-C@CNFs' : datum.label"}}}},
  {"mark": {"type": "point", "shape": "circle", "filled": true, "fill": "white", "opacity": 1, "size": 30, "clip": true}},
  {"mark": {"type": "point", "shape": "circle", "filled": false, "size": 30, "strokeWidth": 1, "opacity": 1, "clip": true}, "encoding": {"stroke": {"field": "s", "type": "nominal", "scale": {"domain": ["CNFs","Co","CoNi","CCC","CNCC"], "range": ["#8a8a8a","#8c8cff","#8fd49a","#c39af2","#ff8c8c"]}, "legend": null}}}
 ]
},
{
 "width": 297, "height": 238,
 "title": {"text": "(e)", "dx": -63, "dy": 24},
 "data": {"name": "e"},
 "encoding": {
  "x": {"field": "f", "type": "quantitative", "scale": {"domain": [2, 18], "nice": false}, "axis": {"title": "Frequency (GHz)", "values": [5, 10, 15], "offset": -5}},
  "y": {"field": "v", "type": "quantitative", "scale": {"domain": [-0.08, 0.65], "nice": false, "zero": false}, "axis": {"title": "μ″", "values": [0, 0.2, 0.4, 0.6], "format": ".1f"}}
 },
 "layer": [
  {"mark": {"type": "line", "strokeWidth": 1.3, "clip": true}, "encoding": {"color": {"field": "s", "type": "nominal", "scale": {"domain": ["CNFs","Co","CoNi","CCC","CNCC"], "range": ["#111111","#1f64e0","#1a8a1a","#8a2be2","#ff3030"]}, "legend": {"title": null, "orient": "none", "legendX": 151, "legendY": 3, "symbolType": "M-5,0L-0.9,0M0.9,0L5,0M0.9,0L0.78,0.45L0.45,0.78L0,0.9L-0.45,0.78L-0.78,0.45L-0.9,0L-0.78,-0.45L-0.45,-0.78L0,-0.9L0.45,-0.78L0.78,-0.45Z", "symbolSize": 64, "symbolStrokeWidth": 2, "labelExpr": "datum.label == 'Co' ? 'Co-C@CNFs' : datum.label == 'CoNi' ? 'CoNi-C@CNFs' : datum.label"}}}},
  {"mark": {"type": "point", "shape": "circle", "filled": true, "fill": "white", "opacity": 1, "size": 30, "clip": true}},
  {"mark": {"type": "point", "shape": "circle", "filled": false, "size": 30, "strokeWidth": 1, "opacity": 1, "clip": true}, "encoding": {"stroke": {"field": "s", "type": "nominal", "scale": {"domain": ["CNFs","Co","CoNi","CCC","CNCC"], "range": ["#777777","#8c8cff","#80cc80","#c39af2","#ff8c8c"]}, "legend": null}}}
 ]
},
{
 "width": 297, "height": 238,
 "title": {"text": "(f)", "dx": -62, "dy": 24},
 "encoding": {
  "x": {"field": "f", "type": "quantitative", "scale": {"domain": [2, 18], "nice": false}, "axis": {"title": "Frequency (GHz)", "values": [5, 10, 15], "offset": -5}}
 },
 "layer": [
  {"data": {"name": "f"}, "mark": {"type": "line", "strokeWidth": 1.3, "clip": true}, "encoding": {
    "y": {"field": "v", "type": "quantitative", "scale": {"domain": [-0.08, 0.65], "nice": false, "zero": false}, "axis": {"title": "tanδ", "values": [0, 0.2, 0.4, 0.6], "format": ".1f", "titleFontSize": 32, "titleY": 123}},
    "color": {"field": "s", "type": "nominal", "scale": {"domain": ["CNFs","Co","CoNi","CCC","CNCC"], "range": ["#111111","#2266dd","#2ca05a","#8a2be2","#ff3030"]}, "legend": {"title": null, "orient": "none", "legendX": 151, "legendY": 3, "symbolType": "M-5,0L-0.9,0M0.9,0L5,0M0.9,0L0.78,0.45L0.45,0.78L0,0.9L-0.45,0.78L-0.78,0.45L-0.9,0L-0.78,-0.45L-0.45,-0.78L0,-0.9L0.45,-0.78L0.78,-0.45Z", "symbolSize": 64, "symbolStrokeWidth": 2, "labelExpr": "datum.label == 'Co' ? 'Co-C@CNFs' : datum.label == 'CoNi' ? 'CoNi-C@CNFs' : datum.label"}}}},
  {"data": {"name": "f"}, "mark": {"type": "point", "shape": "circle", "filled": true, "fill": "white", "opacity": 1, "size": 30, "clip": true}, "encoding": {
    "y": {"field": "v", "type": "quantitative", "scale": {"domain": [-0.08, 0.65], "nice": false, "zero": false}, "axis": {"title": "μ", "labels": false, "ticks": false, "domain": false, "titleFontSize": 17, "titleX": -38, "titleY": 82, "titleAngle": -90, "titleBaseline": "alphabetic", "titleAlign": "center", "orient": "left"}}}},
  {"data": {"name": "f"}, "mark": {"type": "point", "shape": "circle", "filled": false, "size": 30, "strokeWidth": 1, "opacity": 1, "clip": true}, "encoding": {
    "y": {"field": "v", "type": "quantitative", "scale": {"domain": [-0.08, 0.65], "nice": false, "zero": false}, "axis": null},
    "stroke": {"field": "s", "type": "nominal", "scale": {"domain": ["CNFs","Co","CoNi","CCC","CNCC"], "range": ["#777777","#8c8cff","#80cc80","#c39af2","#ff8c8c"]}, "legend": null}}},
  {"data": {"values": [{"f": 4.05, "f2": 7.46, "v": 0.015, "v2": 0.612}]}, "mark": {"type": "rect", "fill": "#4472c4", "opacity": 0.72}, "encoding": {"x2": {"field": "f2"}, "y": {"field": "v", "type": "quantitative", "scale": {"domain": [-0.08, 0.65], "nice": false, "zero": false}, "axis": null}, "y2": {"field": "v2"}}},
  {"data": {"values": [{"f": 11.38, "f2": 15.0, "v": 0.015, "v2": 0.26}]}, "mark": {"type": "rect", "fill": "#ed7d31", "opacity": 0.72}, "encoding": {"x2": {"field": "f2"}, "y": {"field": "v", "type": "quantitative", "scale": {"domain": [-0.08, 0.65], "nice": false, "zero": false}, "axis": null}, "y2": {"field": "v2"}}},
  {"data": {"values": [{"f": 7.64, "f2": 16.21, "v": 0.27, "v2": 0.34}]}, "mark": {"type": "rect", "fill": "white", "stroke": "#1c1ca6", "strokeWidth": 2, "strokeDash": [5, 3], "cornerRadius": 5}, "encoding": {"x2": {"field": "f2"}, "y": {"field": "v", "type": "quantitative", "scale": {"domain": [-0.08, 0.65], "nice": false, "zero": false}, "axis": null}, "y2": {"field": "v2"}}},
  {"data": {"values": [{"f": 2.18, "f2": 11.96, "v": -0.074, "v2": -0.007}]}, "mark": {"type": "rect", "fill": "white", "stroke": "#c8641e", "strokeWidth": 2, "strokeDash": [5, 3], "cornerRadius": 5}, "encoding": {"x2": {"field": "f2"}, "y": {"field": "v", "type": "quantitative", "scale": {"domain": [-0.08, 0.65], "nice": false, "zero": false}, "axis": null}, "y2": {"field": "v2"}}},
  {"data": {"values": [{"f": 11.93, "v": 0.305, "t": "natural resonance"}, {"f": 7.07, "v": -0.041, "t": "exchange resonance"}]}, "mark": {"type": "text", "font": "Liberation Sans", "fontStyle": "italic", "fontWeight": "bold", "fontSize": 15, "color": "black", "baseline": "middle", "align": "center"}, "encoding": {"y": {"field": "v", "type": "quantitative", "scale": {"domain": [-0.08, 0.65], "nice": false, "zero": false}, "axis": null}, "text": {"field": "t"}}},
  {"data": {"values": [{"f": 7.5, "f2": 9.2, "v": 0.439, "v2": 0.372}]}, "mark": {"type": "rule", "color": "#2e5597", "strokeWidth": 3.5}, "encoding": {"x2": {"field": "f2"}, "y": {"field": "v", "type": "quantitative", "scale": {"domain": [-0.08, 0.65], "nice": false, "zero": false}, "axis": null}, "y2": {"field": "v2"}}},
  {"data": {"values": [{"f": 9.35, "v": 0.36}]}, "mark": {"type": "point", "shape": "triangle-up", "filled": true, "color": "#2e5597", "size": 150, "angle": 128, "opacity": 1}, "encoding": {"y": {"field": "v", "type": "quantitative", "scale": {"domain": [-0.08, 0.65], "nice": false, "zero": false}, "axis": null}}},
  {"data": {"values": [{"f": 13.125, "f2": 12.25, "v": 0.015, "v2": -0.012}]}, "mark": {"type": "rule", "color": "#c55a11", "strokeWidth": 3.5}, "encoding": {"x2": {"field": "f2"}, "y": {"field": "v", "type": "quantitative", "scale": {"domain": [-0.08, 0.65], "nice": false, "zero": false}, "axis": null}, "y2": {"field": "v2"}}},
  {"data": {"values": [{"f": 12.05, "v": -0.02}]}, "mark": {"type": "point", "shape": "triangle-up", "filled": true, "color": "#c55a11", "size": 150, "angle": 240, "opacity": 1}, "encoding": {"y": {"field": "v", "type": "quantitative", "scale": {"domain": [-0.08, 0.65], "nice": false, "zero": false}, "axis": null}}}
 ],
 "resolve": {"axis": {"y": "independent"}}
}
],
"resolve": {"scale": {"color": "independent", "stroke": "independent"}, "legend": {"color": "independent", "stroke": "independent"}}
}
